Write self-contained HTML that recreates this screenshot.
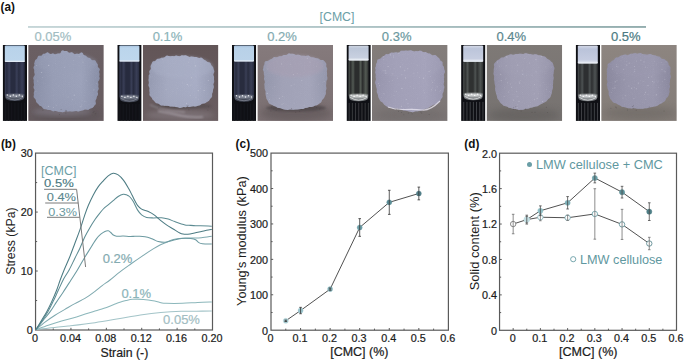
<!DOCTYPE html>
<html><head><meta charset="utf-8"><title>Figure</title>
<style>
html,body{margin:0;padding:0;background:#fff;}
body{width:685px;height:361px;overflow:hidden;}
svg{display:block;font-family:"Liberation Sans", sans-serif;}
</style></head>
<body>
<svg width="685" height="361" viewBox="0 0 685 361">
<rect width="685" height="361" fill="#fff"/>
<text x="0.6" y="10.8" font-size="12.6" font-weight="bold" fill="#111" textLength="14.4" lengthAdjust="spacingAndGlyphs">(a)</text>
<text x="337.00" y="21.20" font-size="12.3" fill="#6b9ea6" text-anchor="middle" font-weight="normal" >[CMC]</text>
<defs><linearGradient id="hl" x1="0" y1="0" x2="1" y2="0"><stop offset="0" stop-color="#c6d6d8"/><stop offset="0.5" stop-color="#b0c5c7"/><stop offset="1" stop-color="#93adae"/></linearGradient></defs>
<rect x="28" y="26.0" width="618" height="1.9" fill="url(#hl)"/>
<defs>
<filter id="soft" x="-10%" y="-10%" width="120%" height="120%"><feGaussianBlur stdDeviation="0.45"/></filter>
<filter id="blur15" x="-20%" y="-20%" width="140%" height="140%"><feGaussianBlur stdDeviation="1.6"/></filter>
<filter id="blur1" x="-20%" y="-20%" width="140%" height="140%"><feGaussianBlur stdDeviation="0.9"/></filter>
<filter id="blur2" x="-20%" y="-20%" width="140%" height="140%"><feGaussianBlur stdDeviation="2.5"/></filter>
<filter id="blur3" x="-30%" y="-30%" width="160%" height="160%"><feGaussianBlur stdDeviation="3.5"/></filter>
<filter id="grain" x="0" y="0" width="100%" height="100%"><feTurbulence type="fractalNoise" baseFrequency="0.9" numOctaves="1" seed="11" result="n"/><feColorMatrix in="n" type="matrix" values="0 0 0 0 1  0 0 0 0 1  0 0 0 0 1  0.9 0 0 0 -0.45" result="w"/><feComposite in="w" in2="SourceGraphic" operator="in"/></filter>
<linearGradient id="bg0" x1="0" y1="0" x2="0" y2="1"><stop offset="0" stop-color="#6a5f63"/><stop offset="1" stop-color="#675c60"/></linearGradient>
<linearGradient id="gelv0" x1="0" y1="0" x2="0" y2="1"><stop offset="0" stop-color="#9ca2ba" stop-opacity="0.3"/><stop offset="0.5" stop-color="#979db5" stop-opacity="0"/><stop offset="1" stop-color="#9196ae" stop-opacity="0.5"/></linearGradient>
<linearGradient id="gel0" x1="0" y1="0" x2="1" y2="0"><stop offset="0" stop-color="#888ea6"/><stop offset="0.3" stop-color="#979db5"/><stop offset="0.72" stop-color="#9ca2ba"/><stop offset="1" stop-color="#888ea6"/></linearGradient>
<linearGradient id="bg1" x1="0" y1="0" x2="0" y2="1"><stop offset="0" stop-color="#625557"/><stop offset="1" stop-color="#6a5e61"/></linearGradient>
<linearGradient id="gelv1" x1="0" y1="0" x2="0" y2="1"><stop offset="0" stop-color="#a8adc5" stop-opacity="0.3"/><stop offset="0.5" stop-color="#a4a9c0" stop-opacity="0"/><stop offset="1" stop-color="#9ea2b8" stop-opacity="0.5"/></linearGradient>
<linearGradient id="gel1" x1="0" y1="0" x2="1" y2="0"><stop offset="0" stop-color="#959ab1"/><stop offset="0.3" stop-color="#a4a9c0"/><stop offset="0.72" stop-color="#a8adc5"/><stop offset="1" stop-color="#959ab1"/></linearGradient>
<linearGradient id="bg2" x1="0" y1="0" x2="0" y2="1"><stop offset="0" stop-color="#857a7c"/><stop offset="1" stop-color="#7a6f71"/></linearGradient>
<linearGradient id="gelv2" x1="0" y1="0" x2="0" y2="1"><stop offset="0" stop-color="#a4a5ba" stop-opacity="0.3"/><stop offset="0.5" stop-color="#a0a1b6" stop-opacity="0"/><stop offset="1" stop-color="#a3a5ba" stop-opacity="0.5"/></linearGradient>
<linearGradient id="gel2" x1="0" y1="0" x2="1" y2="0"><stop offset="0" stop-color="#9396ab"/><stop offset="0.3" stop-color="#a0a1b6"/><stop offset="0.72" stop-color="#a4a5ba"/><stop offset="1" stop-color="#9396ab"/></linearGradient>
<linearGradient id="bg3" x1="0" y1="0" x2="0" y2="1"><stop offset="0" stop-color="#837d7a"/><stop offset="1" stop-color="#7c7676"/></linearGradient>
<linearGradient id="gelv3" x1="0" y1="0" x2="0" y2="1"><stop offset="0" stop-color="#a5a3bb" stop-opacity="0.3"/><stop offset="0.5" stop-color="#a19fb7" stop-opacity="0"/><stop offset="1" stop-color="#a2a0b8" stop-opacity="0.5"/></linearGradient>
<linearGradient id="gel3" x1="0" y1="0" x2="1" y2="0"><stop offset="0" stop-color="#9694ac"/><stop offset="0.3" stop-color="#a19fb7"/><stop offset="0.72" stop-color="#a5a3bb"/><stop offset="1" stop-color="#9694ac"/></linearGradient>
<linearGradient id="bg4" x1="0" y1="0" x2="0" y2="1"><stop offset="0" stop-color="#7e7976"/><stop offset="1" stop-color="#767270"/></linearGradient>
<linearGradient id="gelv4" x1="0" y1="0" x2="0" y2="1"><stop offset="0" stop-color="#a2a0b5" stop-opacity="0.3"/><stop offset="0.5" stop-color="#9e9cb1" stop-opacity="0"/><stop offset="1" stop-color="#9c9aaf" stop-opacity="0.5"/></linearGradient>
<linearGradient id="gel4" x1="0" y1="0" x2="1" y2="0"><stop offset="0" stop-color="#908ea4"/><stop offset="0.3" stop-color="#9e9cb1"/><stop offset="0.72" stop-color="#a2a0b5"/><stop offset="1" stop-color="#908ea4"/></linearGradient>
<linearGradient id="bg5" x1="0" y1="0" x2="0" y2="1"><stop offset="0" stop-color="#8d8580"/><stop offset="1" stop-color="#837c77"/></linearGradient>
<linearGradient id="gelv5" x1="0" y1="0" x2="0" y2="1"><stop offset="0" stop-color="#9b99af" stop-opacity="0.3"/><stop offset="0.5" stop-color="#9795ab" stop-opacity="0"/><stop offset="1" stop-color="#9593a9" stop-opacity="0.5"/></linearGradient>
<linearGradient id="gel5" x1="0" y1="0" x2="1" y2="0"><stop offset="0" stop-color="#8a889e"/><stop offset="0.3" stop-color="#9795ab"/><stop offset="0.72" stop-color="#9b99af"/><stop offset="1" stop-color="#8a889e"/></linearGradient>
<linearGradient id="vt0" x1="0" y1="0" x2="0" y2="1"><stop offset="0" stop-color="#a4bedb"/><stop offset="0.15" stop-color="#b9d3ea"/><stop offset="0.88" stop-color="#bcd5eb"/><stop offset="1" stop-color="#d2e2f1"/></linearGradient>
<linearGradient id="vg0" x1="0" y1="0" x2="1" y2="0"><stop offset="0" stop-color="#3a3f58"/><stop offset="0.1" stop-color="#282c40"/><stop offset="0.22" stop-color="#3a3f58"/><stop offset="0.32" stop-color="#282c40"/><stop offset="0.5" stop-color="#282c40"/><stop offset="0.6" stop-color="#3a3f58"/><stop offset="0.7" stop-color="#282c40"/><stop offset="0.86" stop-color="#3a3f58"/><stop offset="1" stop-color="#282c40"/></linearGradient>
<linearGradient id="vt1" x1="0" y1="0" x2="0" y2="1"><stop offset="0" stop-color="#a6c0dc"/><stop offset="0.15" stop-color="#bbd5ec"/><stop offset="0.88" stop-color="#bed7ed"/><stop offset="1" stop-color="#d4e4f2"/></linearGradient>
<linearGradient id="vg1" x1="0" y1="0" x2="1" y2="0"><stop offset="0" stop-color="#393e56"/><stop offset="0.1" stop-color="#272b3e"/><stop offset="0.22" stop-color="#393e56"/><stop offset="0.32" stop-color="#272b3e"/><stop offset="0.5" stop-color="#272b3e"/><stop offset="0.6" stop-color="#393e56"/><stop offset="0.7" stop-color="#272b3e"/><stop offset="0.86" stop-color="#393e56"/><stop offset="1" stop-color="#272b3e"/></linearGradient>
<linearGradient id="vt2" x1="0" y1="0" x2="0" y2="1"><stop offset="0" stop-color="#a3bcd8"/><stop offset="0.15" stop-color="#b8d1e8"/><stop offset="0.88" stop-color="#bbd3e9"/><stop offset="1" stop-color="#d1e0ef"/></linearGradient>
<linearGradient id="vg2" x1="0" y1="0" x2="1" y2="0"><stop offset="0" stop-color="#3a3f56"/><stop offset="0.1" stop-color="#282c3e"/><stop offset="0.22" stop-color="#3a3f56"/><stop offset="0.32" stop-color="#282c3e"/><stop offset="0.5" stop-color="#282c3e"/><stop offset="0.6" stop-color="#3a3f56"/><stop offset="0.7" stop-color="#282c3e"/><stop offset="0.86" stop-color="#3a3f56"/><stop offset="1" stop-color="#282c3e"/></linearGradient>
<linearGradient id="vt3" x1="0" y1="0" x2="0" y2="1"><stop offset="0" stop-color="#d0d6e2"/><stop offset="0.2" stop-color="#bcc6d8"/><stop offset="0.8" stop-color="#c8d0e0"/><stop offset="1" stop-color="#eef1f5"/></linearGradient>
<linearGradient id="vg3" x1="0" y1="0" x2="1" y2="0"><stop offset="0" stop-color="#535a54"/><stop offset="0.1" stop-color="#2b2d2d"/><stop offset="0.22" stop-color="#535a54"/><stop offset="0.32" stop-color="#2b2d2d"/><stop offset="0.5" stop-color="#2b2d2d"/><stop offset="0.6" stop-color="#535a54"/><stop offset="0.7" stop-color="#2b2d2d"/><stop offset="0.86" stop-color="#535a54"/><stop offset="1" stop-color="#2b2d2d"/></linearGradient>
<linearGradient id="vt4" x1="0" y1="0" x2="0" y2="1"><stop offset="0" stop-color="#d8dce8"/><stop offset="0.2" stop-color="#bcc5da"/><stop offset="0.8" stop-color="#c6cde0"/><stop offset="1" stop-color="#eef0f4"/></linearGradient>
<linearGradient id="vg4" x1="0" y1="0" x2="1" y2="0"><stop offset="0" stop-color="#4f5453"/><stop offset="0.1" stop-color="#2f3131"/><stop offset="0.22" stop-color="#4f5453"/><stop offset="0.32" stop-color="#2f3131"/><stop offset="0.5" stop-color="#2f3131"/><stop offset="0.6" stop-color="#4f5453"/><stop offset="0.7" stop-color="#2f3131"/><stop offset="0.86" stop-color="#4f5453"/><stop offset="1" stop-color="#2f3131"/></linearGradient>
<linearGradient id="vt5" x1="0" y1="0" x2="0" y2="1"><stop offset="0" stop-color="#d6dae8"/><stop offset="0.2" stop-color="#bac3da"/><stop offset="0.8" stop-color="#c5cce0"/><stop offset="1" stop-color="#eceff4"/></linearGradient>
<linearGradient id="vg5" x1="0" y1="0" x2="1" y2="0"><stop offset="0" stop-color="#4d5253"/><stop offset="0.1" stop-color="#2d2f31"/><stop offset="0.22" stop-color="#4d5253"/><stop offset="0.32" stop-color="#2d2f31"/><stop offset="0.5" stop-color="#2d2f31"/><stop offset="0.6" stop-color="#4d5253"/><stop offset="0.7" stop-color="#2d2f31"/><stop offset="0.86" stop-color="#4d5253"/><stop offset="1" stop-color="#2d2f31"/></linearGradient>
<clipPath id="pc0"><rect x="28.20" y="45.0" width="75.6" height="75.9"/></clipPath>
<clipPath id="vc0"><rect x="2.70" y="45.0" width="24.3" height="75.9"/></clipPath>
<clipPath id="pc1"><rect x="142.80" y="45.0" width="75.6" height="75.9"/></clipPath>
<clipPath id="vc1"><rect x="117.30" y="45.0" width="24.3" height="75.9"/></clipPath>
<clipPath id="pc2"><rect x="257.40" y="45.0" width="75.6" height="75.9"/></clipPath>
<clipPath id="vc2"><rect x="231.90" y="45.0" width="24.3" height="75.9"/></clipPath>
<clipPath id="pc3"><rect x="372.00" y="45.0" width="75.6" height="75.9"/></clipPath>
<clipPath id="vc3"><rect x="346.50" y="45.0" width="24.3" height="75.9"/></clipPath>
<clipPath id="pc4"><rect x="486.60" y="45.0" width="75.6" height="75.9"/></clipPath>
<clipPath id="vc4"><rect x="461.10" y="45.0" width="24.3" height="75.9"/></clipPath>
<clipPath id="pc5"><rect x="601.20" y="45.0" width="75.6" height="75.9"/></clipPath>
<clipPath id="vc5"><rect x="575.70" y="45.0" width="24.3" height="75.9"/></clipPath>
</defs>
<text x="52.85" y="41.00" font-size="13.0" fill="#a2bdc2" text-anchor="middle" font-weight="normal" stroke="#a2bdc2" stroke-width="0.2">0.05%</text>
<g clip-path="url(#vc0)">
<rect x="2.70" y="45.0" width="24.3" height="75.9" fill="#0f1015"/>
<rect x="4.80" y="61.00" width="20.00" height="36.20" rx="2.5" fill="url(#vg0)"/>
<rect x="4.80" y="45.4" width="20.00" height="16.60" rx="1.2" fill="url(#vt0)"/>
<rect x="4.80" y="60.80" width="20.00" height="1.2" fill="#e9f0f8" opacity="0.7"/>
<path d="M5.30,94.20 L24.30,94.20 L24.30,97.20 Q24.30,101.00 14.80,101.00 Q5.30,101.00 5.30,97.20 Z" fill="#4f5564" opacity="0.85"/>
<ellipse cx="14.80" cy="95.80" rx="8.50" ry="1.6" fill="#dfe3ec" opacity="0.55" filter="url(#blur1)"/>
<path d="M6.30,97.20 Q14.80,102.70 23.30,97.20" fill="none" stroke="#dfe3ec" stroke-width="0.9" opacity="0.35"/>
<circle cx="7.30" cy="95.00" r="0.7" fill="#ffffff" opacity="0.9"/>
<circle cx="10.30" cy="96.20" r="0.7" fill="#ffffff" opacity="0.9"/>
<circle cx="13.30" cy="95.00" r="0.7" fill="#ffffff" opacity="0.9"/>
<circle cx="16.30" cy="96.20" r="0.7" fill="#ffffff" opacity="0.9"/>
<circle cx="19.30" cy="95.00" r="0.7" fill="#ffffff" opacity="0.9"/>
<circle cx="22.30" cy="96.20" r="0.7" fill="#ffffff" opacity="0.9"/>
<rect x="4.90" y="102.70" width="0.9" height="18.20" fill="#17181e"/>
<rect x="8.10" y="102.70" width="0.9" height="18.20" fill="#17181e"/>
<rect x="11.30" y="102.70" width="0.9" height="18.20" fill="#17181e"/>
<rect x="14.50" y="102.70" width="0.9" height="18.20" fill="#17181e"/>
<rect x="17.70" y="102.70" width="0.9" height="18.20" fill="#17181e"/>
<rect x="20.90" y="102.70" width="0.9" height="18.20" fill="#17181e"/>
<rect x="24.10" y="102.70" width="0.9" height="18.20" fill="#17181e"/>
</g>
<g clip-path="url(#pc0)">
<rect x="28.20" y="45.0" width="75.6" height="75.9" fill="url(#bg0)"/>
<ellipse cx="66" cy="115" rx="36" ry="7" fill="#5a5257" opacity="0.7" filter="url(#blur3)"/>
<ellipse cx="62" cy="112" rx="30" ry="4" fill="#8f8a98" opacity="0.5" filter="url(#blur2)"/>
<g filter="url(#soft)"><path d="M34.54,62.48 L34.76,61.50 L35.00,60.52 L35.53,59.70 L36.39,59.16 L37.12,58.62 L37.44,57.77 L37.72,56.91 L38.02,56.13 L38.69,55.78 L39.57,55.78 L40.35,55.83 L40.94,55.77 L41.47,55.68 L41.87,55.30 L42.28,54.77 L42.77,54.23 L43.39,53.85 L44.13,53.68 L44.92,53.68 L45.69,53.21 L46.50,52.72 L47.34,52.30 L48.18,52.48 L49.00,53.18 L49.77,53.74 L50.52,54.10 L51.35,53.96 L52.23,53.61 L53.06,53.51 L53.82,53.85 L54.61,54.31 L55.44,54.32 L56.25,54.03 L57.06,53.71 L57.93,53.49 L58.92,53.54 L59.83,53.44 L60.54,52.99 L61.00,51.99 L61.49,51.06 L62.06,50.62 L62.62,50.44 L63.19,50.50 L63.76,50.70 L64.30,50.92 L64.83,51.01 L65.39,51.06 L66.03,51.07 L66.76,51.04 L67.46,51.45 L68.13,52.07 L68.84,52.63 L69.69,52.80 L70.66,52.54 L71.59,52.34 L72.37,52.58 L73.09,53.12 L73.80,53.82 L74.60,54.18 L75.50,54.02 L76.39,53.76 L77.20,53.66 L77.93,53.77 L78.60,53.95 L79.21,53.78 L79.71,53.44 L80.17,53.13 L80.58,52.65 L81.10,52.42 L81.73,52.50 L82.36,52.81 L82.89,53.30 L83.19,54.06 L83.45,54.68 L83.85,55.10 L84.43,55.36 L85.16,55.53 L85.84,55.80 L86.38,56.25 L86.84,56.85 L87.38,57.37 L88.08,57.71 L88.93,57.79 L89.78,57.91 L90.42,58.39 L90.94,59.06 L91.45,59.69 L91.99,60.18 L92.79,60.25 L93.68,60.18 L94.53,60.17 L95.19,60.45 L95.65,60.97 L95.98,61.63 L96.20,62.34 L96.58,62.82 L96.96,63.25 L97.26,63.72 L97.60,64.12 L97.81,64.60 L97.87,65.15 L97.84,65.72 L97.86,66.25 L97.84,66.82 L98.09,67.29 L98.63,67.68 L99.05,68.12 L99.53,68.63 L99.80,69.27 L99.70,70.04 L99.32,70.94 L99.04,71.99 L99.44,73.30 L99.56,74.84 L99.23,76.52 L99.75,78.35 L99.14,80.14 L98.07,81.83 L98.37,83.51 L98.51,84.99 L98.26,86.28 L98.49,87.53 L98.78,88.72 L98.40,89.77 L97.90,90.73 L97.56,91.66 L97.74,92.62 L98.01,93.56 L98.00,94.41 L97.76,95.13 L97.37,95.76 L97.01,96.34 L96.78,96.93 L96.65,97.52 L96.54,98.14 L96.36,98.77 L96.06,99.40 L95.70,100.04 L95.47,100.68 L95.43,101.35 L95.55,102.04 L95.79,102.79 L95.84,103.54 L95.66,104.23 L95.19,104.77 L94.74,105.30 L94.17,105.76 L93.79,106.36 L93.38,106.96 L92.90,107.59 L92.16,108.00 L91.30,108.31 L90.35,108.51 L89.48,109.10 L88.52,109.70 L87.33,109.83 L85.99,109.49 L84.65,109.59 L83.30,110.23 L81.79,110.54 L80.11,110.90 L78.25,111.59 L76.15,110.99 L74.04,111.25 L71.90,111.45 L69.80,111.32 L67.82,111.41 L65.99,111.09 L64.33,111.72 L62.76,112.21 L61.26,111.90 L59.82,111.78 L58.41,111.76 L57.06,111.30 L55.72,110.99 L54.30,111.23 L52.86,111.18 L51.55,110.43 L50.19,109.96 L48.72,110.00 L47.35,109.72 L46.08,109.28 L44.73,109.20 L43.55,108.84 L42.72,107.94 L42.03,107.00 L41.27,106.35 L40.32,106.03 L39.44,105.60 L38.85,104.85 L38.28,104.10 L37.64,103.39 L36.89,102.74 L36.22,102.00 L35.97,101.01 L35.84,99.98 L35.29,99.12 L34.48,98.27 L33.73,97.31 L33.68,96.10 L33.95,94.81 L33.79,93.55 L33.86,92.22 L34.37,90.84 L34.40,89.43 L33.56,87.97 L33.52,86.49 L34.09,85.00 L33.82,83.45 L33.59,81.81 L33.75,80.12 L33.16,78.40 L33.60,76.70 L34.71,75.07 L34.57,73.49 L34.15,72.00 L34.30,70.62 L34.00,69.29 L33.49,68.02 L33.66,66.79 L34.35,65.66 L34.47,64.57 L34.07,63.44 Z" fill="url(#gel0)"/><path d="M34.54,62.48 L34.76,61.50 L35.00,60.52 L35.53,59.70 L36.39,59.16 L37.12,58.62 L37.44,57.77 L37.72,56.91 L38.02,56.13 L38.69,55.78 L39.57,55.78 L40.35,55.83 L40.94,55.77 L41.47,55.68 L41.87,55.30 L42.28,54.77 L42.77,54.23 L43.39,53.85 L44.13,53.68 L44.92,53.68 L45.69,53.21 L46.50,52.72 L47.34,52.30 L48.18,52.48 L49.00,53.18 L49.77,53.74 L50.52,54.10 L51.35,53.96 L52.23,53.61 L53.06,53.51 L53.82,53.85 L54.61,54.31 L55.44,54.32 L56.25,54.03 L57.06,53.71 L57.93,53.49 L58.92,53.54 L59.83,53.44 L60.54,52.99 L61.00,51.99 L61.49,51.06 L62.06,50.62 L62.62,50.44 L63.19,50.50 L63.76,50.70 L64.30,50.92 L64.83,51.01 L65.39,51.06 L66.03,51.07 L66.76,51.04 L67.46,51.45 L68.13,52.07 L68.84,52.63 L69.69,52.80 L70.66,52.54 L71.59,52.34 L72.37,52.58 L73.09,53.12 L73.80,53.82 L74.60,54.18 L75.50,54.02 L76.39,53.76 L77.20,53.66 L77.93,53.77 L78.60,53.95 L79.21,53.78 L79.71,53.44 L80.17,53.13 L80.58,52.65 L81.10,52.42 L81.73,52.50 L82.36,52.81 L82.89,53.30 L83.19,54.06 L83.45,54.68 L83.85,55.10 L84.43,55.36 L85.16,55.53 L85.84,55.80 L86.38,56.25 L86.84,56.85 L87.38,57.37 L88.08,57.71 L88.93,57.79 L89.78,57.91 L90.42,58.39 L90.94,59.06 L91.45,59.69 L91.99,60.18 L92.79,60.25 L93.68,60.18 L94.53,60.17 L95.19,60.45 L95.65,60.97 L95.98,61.63 L96.20,62.34 L96.58,62.82 L96.96,63.25 L97.26,63.72 L97.60,64.12 L97.81,64.60 L97.87,65.15 L97.84,65.72 L97.86,66.25 L97.84,66.82 L98.09,67.29 L98.63,67.68 L99.05,68.12 L99.53,68.63 L99.80,69.27 L99.70,70.04 L99.32,70.94 L99.04,71.99 L99.44,73.30 L99.56,74.84 L99.23,76.52 L99.75,78.35 L99.14,80.14 L98.07,81.83 L98.37,83.51 L98.51,84.99 L98.26,86.28 L98.49,87.53 L98.78,88.72 L98.40,89.77 L97.90,90.73 L97.56,91.66 L97.74,92.62 L98.01,93.56 L98.00,94.41 L97.76,95.13 L97.37,95.76 L97.01,96.34 L96.78,96.93 L96.65,97.52 L96.54,98.14 L96.36,98.77 L96.06,99.40 L95.70,100.04 L95.47,100.68 L95.43,101.35 L95.55,102.04 L95.79,102.79 L95.84,103.54 L95.66,104.23 L95.19,104.77 L94.74,105.30 L94.17,105.76 L93.79,106.36 L93.38,106.96 L92.90,107.59 L92.16,108.00 L91.30,108.31 L90.35,108.51 L89.48,109.10 L88.52,109.70 L87.33,109.83 L85.99,109.49 L84.65,109.59 L83.30,110.23 L81.79,110.54 L80.11,110.90 L78.25,111.59 L76.15,110.99 L74.04,111.25 L71.90,111.45 L69.80,111.32 L67.82,111.41 L65.99,111.09 L64.33,111.72 L62.76,112.21 L61.26,111.90 L59.82,111.78 L58.41,111.76 L57.06,111.30 L55.72,110.99 L54.30,111.23 L52.86,111.18 L51.55,110.43 L50.19,109.96 L48.72,110.00 L47.35,109.72 L46.08,109.28 L44.73,109.20 L43.55,108.84 L42.72,107.94 L42.03,107.00 L41.27,106.35 L40.32,106.03 L39.44,105.60 L38.85,104.85 L38.28,104.10 L37.64,103.39 L36.89,102.74 L36.22,102.00 L35.97,101.01 L35.84,99.98 L35.29,99.12 L34.48,98.27 L33.73,97.31 L33.68,96.10 L33.95,94.81 L33.79,93.55 L33.86,92.22 L34.37,90.84 L34.40,89.43 L33.56,87.97 L33.52,86.49 L34.09,85.00 L33.82,83.45 L33.59,81.81 L33.75,80.12 L33.16,78.40 L33.60,76.70 L34.71,75.07 L34.57,73.49 L34.15,72.00 L34.30,70.62 L34.00,69.29 L33.49,68.02 L33.66,66.79 L34.35,65.66 L34.47,64.57 L34.07,63.44 Z" fill="url(#gelv0)"/></g>
<ellipse cx="67" cy="63" rx="30" ry="10" fill="#9aa0b8" opacity="0.3" filter="url(#blur15)"/>
<path d="M34.54,62.48 L34.76,61.50 L35.00,60.52 L35.53,59.70 L36.39,59.16 L37.12,58.62 L37.44,57.77 L37.72,56.91 L38.02,56.13 L38.69,55.78 L39.57,55.78 L40.35,55.83 L40.94,55.77 L41.47,55.68 L41.87,55.30 L42.28,54.77 L42.77,54.23 L43.39,53.85 L44.13,53.68 L44.92,53.68 L45.69,53.21 L46.50,52.72 L47.34,52.30 L48.18,52.48 L49.00,53.18 L49.77,53.74 L50.52,54.10 L51.35,53.96 L52.23,53.61 L53.06,53.51 L53.82,53.85 L54.61,54.31 L55.44,54.32 L56.25,54.03 L57.06,53.71 L57.93,53.49 L58.92,53.54 L59.83,53.44 L60.54,52.99 L61.00,51.99 L61.49,51.06 L62.06,50.62 L62.62,50.44 L63.19,50.50 L63.76,50.70 L64.30,50.92 L64.83,51.01 L65.39,51.06 L66.03,51.07 L66.76,51.04 L67.46,51.45 L68.13,52.07 L68.84,52.63 L69.69,52.80 L70.66,52.54 L71.59,52.34 L72.37,52.58 L73.09,53.12 L73.80,53.82 L74.60,54.18 L75.50,54.02 L76.39,53.76 L77.20,53.66 L77.93,53.77 L78.60,53.95 L79.21,53.78 L79.71,53.44 L80.17,53.13 L80.58,52.65 L81.10,52.42 L81.73,52.50 L82.36,52.81 L82.89,53.30 L83.19,54.06 L83.45,54.68 L83.85,55.10 L84.43,55.36 L85.16,55.53 L85.84,55.80 L86.38,56.25 L86.84,56.85 L87.38,57.37 L88.08,57.71 L88.93,57.79 L89.78,57.91 L90.42,58.39 L90.94,59.06 L91.45,59.69 L91.99,60.18 L92.79,60.25 L93.68,60.18 L94.53,60.17 L95.19,60.45 L95.65,60.97 L95.98,61.63 L96.20,62.34 L96.58,62.82 L96.96,63.25 L97.26,63.72 L97.60,64.12 L97.81,64.60 L97.87,65.15 L97.84,65.72 L97.86,66.25 L97.84,66.82 L98.09,67.29 L98.63,67.68 L99.05,68.12 L99.53,68.63 L99.80,69.27 L99.70,70.04 L99.32,70.94 L99.04,71.99 L99.44,73.30 L99.56,74.84 L99.23,76.52 L99.75,78.35 L99.14,80.14 L98.07,81.83 L98.37,83.51 L98.51,84.99 L98.26,86.28 L98.49,87.53 L98.78,88.72 L98.40,89.77 L97.90,90.73 L97.56,91.66 L97.74,92.62 L98.01,93.56 L98.00,94.41 L97.76,95.13 L97.37,95.76 L97.01,96.34 L96.78,96.93 L96.65,97.52 L96.54,98.14 L96.36,98.77 L96.06,99.40 L95.70,100.04 L95.47,100.68 L95.43,101.35 L95.55,102.04 L95.79,102.79 L95.84,103.54 L95.66,104.23 L95.19,104.77 L94.74,105.30 L94.17,105.76 L93.79,106.36 L93.38,106.96 L92.90,107.59 L92.16,108.00 L91.30,108.31 L90.35,108.51 L89.48,109.10 L88.52,109.70 L87.33,109.83 L85.99,109.49 L84.65,109.59 L83.30,110.23 L81.79,110.54 L80.11,110.90 L78.25,111.59 L76.15,110.99 L74.04,111.25 L71.90,111.45 L69.80,111.32 L67.82,111.41 L65.99,111.09 L64.33,111.72 L62.76,112.21 L61.26,111.90 L59.82,111.78 L58.41,111.76 L57.06,111.30 L55.72,110.99 L54.30,111.23 L52.86,111.18 L51.55,110.43 L50.19,109.96 L48.72,110.00 L47.35,109.72 L46.08,109.28 L44.73,109.20 L43.55,108.84 L42.72,107.94 L42.03,107.00 L41.27,106.35 L40.32,106.03 L39.44,105.60 L38.85,104.85 L38.28,104.10 L37.64,103.39 L36.89,102.74 L36.22,102.00 L35.97,101.01 L35.84,99.98 L35.29,99.12 L34.48,98.27 L33.73,97.31 L33.68,96.10 L33.95,94.81 L33.79,93.55 L33.86,92.22 L34.37,90.84 L34.40,89.43 L33.56,87.97 L33.52,86.49 L34.09,85.00 L33.82,83.45 L33.59,81.81 L33.75,80.12 L33.16,78.40 L33.60,76.70 L34.71,75.07 L34.57,73.49 L34.15,72.00 L34.30,70.62 L34.00,69.29 L33.49,68.02 L33.66,66.79 L34.35,65.66 L34.47,64.57 L34.07,63.44 Z" fill="#fff" opacity="0.12" filter="url(#grain)"/>

<circle cx="74.2" cy="95.1" r="0.55" fill="#e4e4ee" opacity="0.44"/>
<circle cx="81.4" cy="105.2" r="0.36" fill="#e4e4ee" opacity="0.32"/>
<circle cx="93.9" cy="89.8" r="0.58" fill="#e4e4ee" opacity="0.23"/>
<circle cx="64.7" cy="67.2" r="0.49" fill="#e4e4ee" opacity="0.34"/>
<circle cx="36.6" cy="65.5" r="0.42" fill="#e4e4ee" opacity="0.43"/>
<circle cx="83.0" cy="62.3" r="0.55" fill="#e4e4ee" opacity="0.23"/>
<circle cx="73.8" cy="60.4" r="0.35" fill="#e4e4ee" opacity="0.42"/>
<circle cx="48.7" cy="65.4" r="0.6" fill="#e4e4ee" opacity="0.42"/>
<circle cx="53.6" cy="107.4" r="0.48" fill="#e4e4ee" opacity="0.37"/>
<circle cx="48.4" cy="106.3" r="0.52" fill="#e4e4ee" opacity="0.44"/>
<circle cx="90.9" cy="70.1" r="0.44" fill="#e4e4ee" opacity="0.24"/>
<circle cx="44.8" cy="57.0" r="0.43" fill="#e4e4ee" opacity="0.35"/>
<circle cx="36.0" cy="91.5" r="0.43" fill="#e4e4ee" opacity="0.28"/>
<circle cx="86.2" cy="80.4" r="0.43" fill="#e4e4ee" opacity="0.32"/>
<circle cx="79.2" cy="56.5" r="0.59" fill="#e4e4ee" opacity="0.21"/>
<circle cx="82.0" cy="100.9" r="0.35" fill="#e4e4ee" opacity="0.4"/>
<circle cx="58.4" cy="85.9" r="0.35" fill="#e4e4ee" opacity="0.21"/>
<circle cx="46.9" cy="107.1" r="0.4" fill="#e4e4ee" opacity="0.39"/>
<circle cx="93.1" cy="106.3" r="0.44" fill="#e4e4ee" opacity="0.29"/>
<circle cx="68.1" cy="97.0" r="0.38" fill="#e4e4ee" opacity="0.39"/>
<circle cx="84.9" cy="101.7" r="0.36" fill="#e4e4ee" opacity="0.44"/>
<circle cx="41.4" cy="72.5" r="0.5" fill="#e4e4ee" opacity="0.43"/>
<circle cx="56.7" cy="105.3" r="0.49" fill="#e4e4ee" opacity="0.28"/>
<circle cx="55.3" cy="63.3" r="0.37" fill="#e4e4ee" opacity="0.24"/>
<circle cx="78.3" cy="109.4" r="0.39" fill="#e4e4ee" opacity="0.21"/>
<circle cx="96.6" cy="83.3" r="0.45" fill="#e4e4ee" opacity="0.26"/>
<circle cx="72.4" cy="99.8" r="0.46" fill="#e4e4ee" opacity="0.31"/>
<circle cx="37.8" cy="81.1" r="0.56" fill="#e4e4ee" opacity="0.23"/>
<circle cx="80.9" cy="106.8" r="0.51" fill="#e4e4ee" opacity="0.4"/>
<circle cx="42.4" cy="77.8" r="0.39" fill="#e4e4ee" opacity="0.41"/>
<circle cx="54.8" cy="111.3" r="0.5" fill="#3e383b" opacity="0.35"/>
<circle cx="95.4" cy="113.7" r="0.5" fill="#3e383b" opacity="0.35"/>
<circle cx="94.0" cy="111.3" r="0.5" fill="#3e383b" opacity="0.35"/>
<circle cx="65.9" cy="113.0" r="0.5" fill="#3e383b" opacity="0.35"/>
<circle cx="65.4" cy="110.3" r="0.5" fill="#3e383b" opacity="0.35"/>
<circle cx="61.1" cy="109.5" r="0.5" fill="#3e383b" opacity="0.35"/>
<circle cx="59.5" cy="114.5" r="0.5" fill="#3e383b" opacity="0.35"/>
<circle cx="93.1" cy="112.4" r="0.5" fill="#3e383b" opacity="0.35"/>
<circle cx="66.6" cy="110.6" r="0.5" fill="#3e383b" opacity="0.35"/>
<circle cx="42.9" cy="110.2" r="0.5" fill="#3e383b" opacity="0.35"/>
</g>
<text x="167.45" y="41.00" font-size="13.0" fill="#8bb4b9" text-anchor="middle" font-weight="normal" stroke="#8bb4b9" stroke-width="0.2">0.1%</text>
<g clip-path="url(#vc1)">
<rect x="117.30" y="45.0" width="24.3" height="75.9" fill="#0f1015"/>
<rect x="119.40" y="60.60" width="20.00" height="37.80" rx="2.5" fill="url(#vg1)"/>
<rect x="119.40" y="45.4" width="20.00" height="16.20" rx="1.2" fill="url(#vt1)"/>
<rect x="119.40" y="60.40" width="20.00" height="1.2" fill="#e9f0f8" opacity="0.7"/>
<path d="M119.90,95.40 L138.90,95.40 L138.90,98.40 Q138.90,102.20 129.40,102.20 Q119.90,102.20 119.90,98.40 Z" fill="#4f5564" opacity="0.85"/>
<ellipse cx="129.40" cy="97.00" rx="8.50" ry="1.6" fill="#d8dde8" opacity="0.55" filter="url(#blur1)"/>
<path d="M120.90,98.40 Q129.40,103.90 137.90,98.40" fill="none" stroke="#d8dde8" stroke-width="0.9" opacity="0.35"/>
<circle cx="121.90" cy="96.20" r="0.7" fill="#ffffff" opacity="0.9"/>
<circle cx="124.90" cy="97.40" r="0.7" fill="#ffffff" opacity="0.9"/>
<circle cx="127.90" cy="96.20" r="0.7" fill="#ffffff" opacity="0.9"/>
<circle cx="130.90" cy="97.40" r="0.7" fill="#ffffff" opacity="0.9"/>
<circle cx="133.90" cy="96.20" r="0.7" fill="#ffffff" opacity="0.9"/>
<circle cx="136.90" cy="97.40" r="0.7" fill="#ffffff" opacity="0.9"/>
<rect x="119.50" y="103.90" width="0.9" height="17.00" fill="#17181e"/>
<rect x="122.70" y="103.90" width="0.9" height="17.00" fill="#17181e"/>
<rect x="125.90" y="103.90" width="0.9" height="17.00" fill="#17181e"/>
<rect x="129.10" y="103.90" width="0.9" height="17.00" fill="#17181e"/>
<rect x="132.30" y="103.90" width="0.9" height="17.00" fill="#17181e"/>
<rect x="135.50" y="103.90" width="0.9" height="17.00" fill="#17181e"/>
<rect x="138.70" y="103.90" width="0.9" height="17.00" fill="#17181e"/>
</g>
<g clip-path="url(#pc1)">
<rect x="142.80" y="45.0" width="75.6" height="75.9" fill="url(#bg1)"/>
<ellipse cx="180" cy="115" rx="34" ry="5" fill="#857c81" opacity="0.6" filter="url(#blur2)"/>
<ellipse cx="181" cy="106" rx="31" ry="3" fill="#4f484c" opacity="0.55" filter="url(#blur1)"/>
<g filter="url(#soft)"><path d="M149.29,72.58 L149.29,71.35 L149.86,70.26 L150.67,69.30 L150.91,68.31 L150.69,67.24 L150.56,66.17 L150.90,65.27 L151.31,64.39 L151.75,63.56 L152.03,62.63 L152.55,61.85 L153.36,61.33 L154.43,61.16 L155.35,60.86 L156.04,60.18 L156.71,59.23 L157.73,58.73 L158.99,58.70 L160.18,58.42 L161.35,57.82 L162.70,57.65 L164.11,57.49 L165.42,56.44 L166.86,55.54 L168.60,55.99 L170.38,56.16 L172.23,56.08 L174.15,56.37 L176.05,55.49 L178.00,55.89 L179.92,56.21 L181.81,55.35 L183.68,55.50 L185.63,55.20 L187.51,55.99 L189.36,56.92 L191.31,56.45 L193.11,56.77 L194.85,57.01 L196.53,57.06 L197.95,57.85 L199.47,57.98 L201.11,57.60 L202.42,58.18 L203.44,59.31 L204.55,59.98 L205.67,60.49 L206.52,61.37 L207.38,62.09 L208.57,62.31 L209.75,62.61 L210.58,63.30 L210.95,64.38 L211.36,65.32 L212.01,66.05 L212.80,66.69 L213.28,67.50 L213.49,68.40 L213.70,69.27 L214.00,70.13 L214.35,71.02 L214.29,72.00 L213.89,73.04 L213.39,74.13 L213.47,75.26 L214.01,76.50 L214.10,77.81 L213.94,79.15 L214.18,80.54 L214.24,81.90 L213.73,83.17 L213.35,84.38 L213.68,85.59 L213.92,86.76 L213.76,87.90 L213.28,89.00 L213.02,90.07 L212.97,91.13 L212.78,92.15 L212.36,93.08 L212.07,94.04 L212.10,95.15 L212.13,96.30 L211.74,97.29 L210.93,98.01 L210.28,98.75 L209.74,99.51 L209.29,100.28 L208.73,100.89 L208.11,101.36 L207.42,101.68 L206.77,102.01 L206.17,102.45 L205.57,102.98 L204.87,103.37 L203.99,103.47 L203.09,103.55 L202.25,103.70 L201.50,104.06 L200.79,104.65 L199.97,105.22 L198.97,105.50 L197.82,105.75 L196.56,106.25 L195.07,106.53 L193.30,106.20 L191.50,106.53 L189.62,107.05 L187.61,106.84 L185.65,107.20 L183.68,107.08 L181.80,107.49 L179.89,107.90 L177.96,107.27 L175.98,107.09 L174.04,106.63 L172.11,106.52 L170.24,106.61 L168.59,105.90 L167.03,105.77 L165.58,105.99 L164.30,105.83 L163.14,105.60 L162.04,105.53 L161.01,105.44 L160.13,104.99 L159.39,104.31 L158.66,103.77 L157.94,103.45 L157.20,103.34 L156.52,103.19 L155.95,102.89 L155.46,102.50 L155.04,101.99 L154.64,101.44 L154.13,100.88 L153.48,100.37 L152.78,99.85 L152.30,99.10 L151.97,98.22 L151.53,97.39 L150.86,96.64 L150.00,95.89 L149.49,94.90 L149.54,93.68 L149.67,92.41 L149.40,91.18 L149.30,89.87 L149.54,88.49 L149.16,87.15 L148.44,85.80 L148.47,84.41 L148.87,82.97 L148.71,81.47 L148.40,79.91 L148.70,78.35 L148.68,76.80 L148.70,75.29 L149.69,73.96 Z" fill="url(#gel1)"/><path d="M149.29,72.58 L149.29,71.35 L149.86,70.26 L150.67,69.30 L150.91,68.31 L150.69,67.24 L150.56,66.17 L150.90,65.27 L151.31,64.39 L151.75,63.56 L152.03,62.63 L152.55,61.85 L153.36,61.33 L154.43,61.16 L155.35,60.86 L156.04,60.18 L156.71,59.23 L157.73,58.73 L158.99,58.70 L160.18,58.42 L161.35,57.82 L162.70,57.65 L164.11,57.49 L165.42,56.44 L166.86,55.54 L168.60,55.99 L170.38,56.16 L172.23,56.08 L174.15,56.37 L176.05,55.49 L178.00,55.89 L179.92,56.21 L181.81,55.35 L183.68,55.50 L185.63,55.20 L187.51,55.99 L189.36,56.92 L191.31,56.45 L193.11,56.77 L194.85,57.01 L196.53,57.06 L197.95,57.85 L199.47,57.98 L201.11,57.60 L202.42,58.18 L203.44,59.31 L204.55,59.98 L205.67,60.49 L206.52,61.37 L207.38,62.09 L208.57,62.31 L209.75,62.61 L210.58,63.30 L210.95,64.38 L211.36,65.32 L212.01,66.05 L212.80,66.69 L213.28,67.50 L213.49,68.40 L213.70,69.27 L214.00,70.13 L214.35,71.02 L214.29,72.00 L213.89,73.04 L213.39,74.13 L213.47,75.26 L214.01,76.50 L214.10,77.81 L213.94,79.15 L214.18,80.54 L214.24,81.90 L213.73,83.17 L213.35,84.38 L213.68,85.59 L213.92,86.76 L213.76,87.90 L213.28,89.00 L213.02,90.07 L212.97,91.13 L212.78,92.15 L212.36,93.08 L212.07,94.04 L212.10,95.15 L212.13,96.30 L211.74,97.29 L210.93,98.01 L210.28,98.75 L209.74,99.51 L209.29,100.28 L208.73,100.89 L208.11,101.36 L207.42,101.68 L206.77,102.01 L206.17,102.45 L205.57,102.98 L204.87,103.37 L203.99,103.47 L203.09,103.55 L202.25,103.70 L201.50,104.06 L200.79,104.65 L199.97,105.22 L198.97,105.50 L197.82,105.75 L196.56,106.25 L195.07,106.53 L193.30,106.20 L191.50,106.53 L189.62,107.05 L187.61,106.84 L185.65,107.20 L183.68,107.08 L181.80,107.49 L179.89,107.90 L177.96,107.27 L175.98,107.09 L174.04,106.63 L172.11,106.52 L170.24,106.61 L168.59,105.90 L167.03,105.77 L165.58,105.99 L164.30,105.83 L163.14,105.60 L162.04,105.53 L161.01,105.44 L160.13,104.99 L159.39,104.31 L158.66,103.77 L157.94,103.45 L157.20,103.34 L156.52,103.19 L155.95,102.89 L155.46,102.50 L155.04,101.99 L154.64,101.44 L154.13,100.88 L153.48,100.37 L152.78,99.85 L152.30,99.10 L151.97,98.22 L151.53,97.39 L150.86,96.64 L150.00,95.89 L149.49,94.90 L149.54,93.68 L149.67,92.41 L149.40,91.18 L149.30,89.87 L149.54,88.49 L149.16,87.15 L148.44,85.80 L148.47,84.41 L148.87,82.97 L148.71,81.47 L148.40,79.91 L148.70,78.35 L148.68,76.80 L148.70,75.29 L149.69,73.96 Z" fill="url(#gelv1)"/></g>
<ellipse cx="182" cy="67" rx="31" ry="11" fill="#aab0c7" opacity="0.4" filter="url(#blur15)"/>
<path d="M149.29,72.58 L149.29,71.35 L149.86,70.26 L150.67,69.30 L150.91,68.31 L150.69,67.24 L150.56,66.17 L150.90,65.27 L151.31,64.39 L151.75,63.56 L152.03,62.63 L152.55,61.85 L153.36,61.33 L154.43,61.16 L155.35,60.86 L156.04,60.18 L156.71,59.23 L157.73,58.73 L158.99,58.70 L160.18,58.42 L161.35,57.82 L162.70,57.65 L164.11,57.49 L165.42,56.44 L166.86,55.54 L168.60,55.99 L170.38,56.16 L172.23,56.08 L174.15,56.37 L176.05,55.49 L178.00,55.89 L179.92,56.21 L181.81,55.35 L183.68,55.50 L185.63,55.20 L187.51,55.99 L189.36,56.92 L191.31,56.45 L193.11,56.77 L194.85,57.01 L196.53,57.06 L197.95,57.85 L199.47,57.98 L201.11,57.60 L202.42,58.18 L203.44,59.31 L204.55,59.98 L205.67,60.49 L206.52,61.37 L207.38,62.09 L208.57,62.31 L209.75,62.61 L210.58,63.30 L210.95,64.38 L211.36,65.32 L212.01,66.05 L212.80,66.69 L213.28,67.50 L213.49,68.40 L213.70,69.27 L214.00,70.13 L214.35,71.02 L214.29,72.00 L213.89,73.04 L213.39,74.13 L213.47,75.26 L214.01,76.50 L214.10,77.81 L213.94,79.15 L214.18,80.54 L214.24,81.90 L213.73,83.17 L213.35,84.38 L213.68,85.59 L213.92,86.76 L213.76,87.90 L213.28,89.00 L213.02,90.07 L212.97,91.13 L212.78,92.15 L212.36,93.08 L212.07,94.04 L212.10,95.15 L212.13,96.30 L211.74,97.29 L210.93,98.01 L210.28,98.75 L209.74,99.51 L209.29,100.28 L208.73,100.89 L208.11,101.36 L207.42,101.68 L206.77,102.01 L206.17,102.45 L205.57,102.98 L204.87,103.37 L203.99,103.47 L203.09,103.55 L202.25,103.70 L201.50,104.06 L200.79,104.65 L199.97,105.22 L198.97,105.50 L197.82,105.75 L196.56,106.25 L195.07,106.53 L193.30,106.20 L191.50,106.53 L189.62,107.05 L187.61,106.84 L185.65,107.20 L183.68,107.08 L181.80,107.49 L179.89,107.90 L177.96,107.27 L175.98,107.09 L174.04,106.63 L172.11,106.52 L170.24,106.61 L168.59,105.90 L167.03,105.77 L165.58,105.99 L164.30,105.83 L163.14,105.60 L162.04,105.53 L161.01,105.44 L160.13,104.99 L159.39,104.31 L158.66,103.77 L157.94,103.45 L157.20,103.34 L156.52,103.19 L155.95,102.89 L155.46,102.50 L155.04,101.99 L154.64,101.44 L154.13,100.88 L153.48,100.37 L152.78,99.85 L152.30,99.10 L151.97,98.22 L151.53,97.39 L150.86,96.64 L150.00,95.89 L149.49,94.90 L149.54,93.68 L149.67,92.41 L149.40,91.18 L149.30,89.87 L149.54,88.49 L149.16,87.15 L148.44,85.80 L148.47,84.41 L148.87,82.97 L148.71,81.47 L148.40,79.91 L148.70,78.35 L148.68,76.80 L148.70,75.29 L149.69,73.96 Z" fill="#fff" opacity="0.12" filter="url(#grain)"/>
<path d="M158,111 Q170,113 180,115.5 T203,117" fill="none" stroke="#d2cfd8" stroke-width="1.1" opacity="0.75" filter="url(#blur1)"/><path d="M150,105 Q165,111 185,112" fill="none" stroke="#b9b3bb" stroke-width="1.4" opacity="0.5" filter="url(#blur1)"/>
<circle cx="198.7" cy="99.1" r="0.44" fill="#e4e4ee" opacity="0.4"/>
<circle cx="198.3" cy="90.8" r="0.52" fill="#e4e4ee" opacity="0.39"/>
<circle cx="173.0" cy="91.3" r="0.42" fill="#e4e4ee" opacity="0.32"/>
<circle cx="198.0" cy="90.7" r="0.42" fill="#e4e4ee" opacity="0.44"/>
<circle cx="190.6" cy="85.4" r="0.35" fill="#e4e4ee" opacity="0.34"/>
<circle cx="166.1" cy="89.7" r="0.47" fill="#e4e4ee" opacity="0.4"/>
<circle cx="190.5" cy="95.7" r="0.44" fill="#e4e4ee" opacity="0.36"/>
<circle cx="196.0" cy="97.2" r="0.44" fill="#e4e4ee" opacity="0.41"/>
<circle cx="204.1" cy="90.5" r="0.59" fill="#e4e4ee" opacity="0.44"/>
<circle cx="182.5" cy="82.9" r="0.39" fill="#e4e4ee" opacity="0.41"/>
<circle cx="208.3" cy="80.5" r="0.52" fill="#e4e4ee" opacity="0.38"/>
<circle cx="195.5" cy="65.9" r="0.55" fill="#e4e4ee" opacity="0.35"/>
<circle cx="191.6" cy="77.8" r="0.51" fill="#e4e4ee" opacity="0.39"/>
<circle cx="189.8" cy="92.1" r="0.36" fill="#e4e4ee" opacity="0.24"/>
<circle cx="177.8" cy="88.7" r="0.4" fill="#e4e4ee" opacity="0.37"/>
<circle cx="189.4" cy="59.7" r="0.47" fill="#e4e4ee" opacity="0.26"/>
<circle cx="154.0" cy="64.1" r="0.43" fill="#e4e4ee" opacity="0.25"/>
<circle cx="162.6" cy="59.4" r="0.47" fill="#e4e4ee" opacity="0.3"/>
<circle cx="188.3" cy="85.9" r="0.41" fill="#e4e4ee" opacity="0.43"/>
<circle cx="150.7" cy="77.0" r="0.42" fill="#e4e4ee" opacity="0.3"/>
<circle cx="157.8" cy="97.4" r="0.44" fill="#e4e4ee" opacity="0.21"/>
<circle cx="188.4" cy="62.2" r="0.49" fill="#e4e4ee" opacity="0.28"/>
<circle cx="186.4" cy="103.4" r="0.55" fill="#e4e4ee" opacity="0.3"/>
<circle cx="200.6" cy="88.3" r="0.44" fill="#e4e4ee" opacity="0.24"/>
<circle cx="187.3" cy="84.6" r="0.59" fill="#e4e4ee" opacity="0.44"/>
<circle cx="187.6" cy="106.5" r="0.5" fill="#3e383b" opacity="0.35"/>
<circle cx="204.0" cy="104.4" r="0.5" fill="#3e383b" opacity="0.35"/>
<circle cx="158.9" cy="107.8" r="0.5" fill="#3e383b" opacity="0.35"/>
<circle cx="188.0" cy="105.2" r="0.5" fill="#3e383b" opacity="0.35"/>
<circle cx="188.8" cy="109.7" r="0.5" fill="#3e383b" opacity="0.35"/>
<circle cx="174.3" cy="107.0" r="0.5" fill="#3e383b" opacity="0.35"/>
<circle cx="165.7" cy="106.1" r="0.5" fill="#3e383b" opacity="0.35"/>
<circle cx="208.5" cy="106.7" r="0.5" fill="#3e383b" opacity="0.35"/>
<circle cx="207.9" cy="109.9" r="0.5" fill="#3e383b" opacity="0.35"/>
<circle cx="186.9" cy="106.0" r="0.5" fill="#3e383b" opacity="0.35"/>
</g>
<text x="282.05" y="41.00" font-size="13.0" fill="#84abb1" text-anchor="middle" font-weight="normal" stroke="#84abb1" stroke-width="0.2">0.2%</text>
<g clip-path="url(#vc2)">
<rect x="231.90" y="45.0" width="24.3" height="75.9" fill="#0f1015"/>
<rect x="234.00" y="60.50" width="20.00" height="37.50" rx="2.5" fill="url(#vg2)"/>
<rect x="234.00" y="45.4" width="20.00" height="16.10" rx="1.2" fill="url(#vt2)"/>
<rect x="234.00" y="60.30" width="20.00" height="1.2" fill="#e9f0f8" opacity="0.7"/>
<path d="M234.50,95.00 L253.50,95.00 L253.50,98.00 Q253.50,101.80 244.00,101.80 Q234.50,101.80 234.50,98.00 Z" fill="#4f5564" opacity="0.85"/>
<ellipse cx="244.00" cy="96.60" rx="8.50" ry="1.6" fill="#d8dde8" opacity="0.55" filter="url(#blur1)"/>
<path d="M235.50,98.00 Q244.00,103.50 252.50,98.00" fill="none" stroke="#d8dde8" stroke-width="0.9" opacity="0.35"/>
<circle cx="236.50" cy="95.80" r="0.7" fill="#ffffff" opacity="0.9"/>
<circle cx="239.50" cy="97.00" r="0.7" fill="#ffffff" opacity="0.9"/>
<circle cx="242.50" cy="95.80" r="0.7" fill="#ffffff" opacity="0.9"/>
<circle cx="245.50" cy="97.00" r="0.7" fill="#ffffff" opacity="0.9"/>
<circle cx="248.50" cy="95.80" r="0.7" fill="#ffffff" opacity="0.9"/>
<circle cx="251.50" cy="97.00" r="0.7" fill="#ffffff" opacity="0.9"/>
<rect x="234.10" y="103.50" width="0.9" height="17.40" fill="#17181e"/>
<rect x="237.30" y="103.50" width="0.9" height="17.40" fill="#17181e"/>
<rect x="240.50" y="103.50" width="0.9" height="17.40" fill="#17181e"/>
<rect x="243.70" y="103.50" width="0.9" height="17.40" fill="#17181e"/>
<rect x="246.90" y="103.50" width="0.9" height="17.40" fill="#17181e"/>
<rect x="250.10" y="103.50" width="0.9" height="17.40" fill="#17181e"/>
<rect x="253.30" y="103.50" width="0.9" height="17.40" fill="#17181e"/>
</g>
<g clip-path="url(#pc2)">
<rect x="257.40" y="45.0" width="75.6" height="75.9" fill="url(#bg2)"/>
<ellipse cx="296" cy="113" rx="36" ry="8" fill="#5a5153" opacity="0.55" filter="url(#blur3)"/>
<ellipse cx="296" cy="108" rx="30" ry="3.5" fill="#4c4447" opacity="0.7" filter="url(#blur1)"/>
<g filter="url(#soft)"><path d="M263.41,66.97 L263.60,66.10 L263.98,65.35 L264.27,64.65 L264.43,63.97 L264.53,63.26 L264.59,62.47 L264.92,61.76 L265.58,61.27 L266.46,61.03 L267.40,60.94 L268.24,60.69 L268.99,60.17 L269.80,59.65 L270.70,59.27 L271.66,58.97 L272.51,58.34 L273.36,57.51 L274.41,57.05 L275.67,57.27 L276.90,57.36 L278.01,56.91 L279.04,56.28 L280.14,56.13 L281.21,56.13 L282.13,55.89 L282.89,55.45 L283.61,55.07 L284.42,54.92 L285.30,55.02 L286.11,55.00 L286.89,54.68 L287.80,53.94 L288.96,53.36 L290.24,53.63 L291.59,53.87 L293.03,53.78 L294.44,54.31 L295.82,55.01 L297.31,54.77 L298.75,54.64 L300.04,55.33 L301.36,55.86 L302.75,55.75 L304.12,55.84 L305.47,56.10 L306.93,55.71 L308.38,55.50 L309.67,56.25 L310.96,57.13 L312.47,57.22 L313.96,57.52 L315.38,58.10 L316.88,58.17 L318.28,58.43 L319.35,59.37 L320.38,59.93 L321.56,59.88 L322.67,59.92 L323.54,60.32 L324.21,60.94 L324.76,61.62 L325.27,62.28 L325.83,62.91 L326.29,63.65 L326.36,64.56 L326.19,65.48 L326.17,66.31 L326.54,67.13 L327.07,68.04 L327.23,69.07 L327.01,70.19 L326.80,71.40 L327.01,72.74 L327.14,74.23 L326.92,75.80 L327.40,77.48 L327.42,79.17 L326.51,80.79 L326.31,82.42 L326.31,83.99 L326.04,85.49 L326.25,87.01 L326.51,88.53 L326.03,89.99 L325.76,91.41 L325.96,92.89 L325.78,94.30 L325.11,95.54 L324.58,96.79 L324.03,98.03 L323.01,99.00 L322.11,99.98 L321.62,101.28 L320.93,102.54 L319.70,103.36 L318.42,104.24 L316.98,105.15 L315.15,105.59 L313.36,106.51 L311.33,107.01 L309.14,107.05 L307.10,107.67 L305.04,108.08 L303.17,108.97 L301.19,109.05 L299.21,109.13 L297.28,109.62 L295.31,109.57 L293.38,109.80 L291.47,109.54 L289.62,109.43 L287.78,109.93 L286.00,109.71 L284.21,109.45 L282.45,109.10 L280.83,108.33 L279.11,108.12 L277.49,107.72 L276.15,106.80 L274.81,106.16 L273.47,105.72 L272.35,105.00 L271.21,104.40 L269.93,104.01 L268.90,103.25 L268.27,102.10 L267.81,100.87 L267.07,99.76 L266.41,98.47 L266.19,96.89 L265.73,95.26 L265.51,93.50 L265.70,91.68 L265.04,89.97 L264.56,88.31 L264.62,86.72 L264.39,85.26 L264.37,83.83 L264.82,82.40 L264.72,81.07 L264.11,79.79 L263.98,78.51 L264.23,77.23 L264.29,75.98 L263.88,74.77 L263.77,73.55 L263.79,72.34 L263.54,71.18 L262.96,70.06 L262.90,68.95 L263.41,67.93 Z" fill="url(#gel2)"/><path d="M263.41,66.97 L263.60,66.10 L263.98,65.35 L264.27,64.65 L264.43,63.97 L264.53,63.26 L264.59,62.47 L264.92,61.76 L265.58,61.27 L266.46,61.03 L267.40,60.94 L268.24,60.69 L268.99,60.17 L269.80,59.65 L270.70,59.27 L271.66,58.97 L272.51,58.34 L273.36,57.51 L274.41,57.05 L275.67,57.27 L276.90,57.36 L278.01,56.91 L279.04,56.28 L280.14,56.13 L281.21,56.13 L282.13,55.89 L282.89,55.45 L283.61,55.07 L284.42,54.92 L285.30,55.02 L286.11,55.00 L286.89,54.68 L287.80,53.94 L288.96,53.36 L290.24,53.63 L291.59,53.87 L293.03,53.78 L294.44,54.31 L295.82,55.01 L297.31,54.77 L298.75,54.64 L300.04,55.33 L301.36,55.86 L302.75,55.75 L304.12,55.84 L305.47,56.10 L306.93,55.71 L308.38,55.50 L309.67,56.25 L310.96,57.13 L312.47,57.22 L313.96,57.52 L315.38,58.10 L316.88,58.17 L318.28,58.43 L319.35,59.37 L320.38,59.93 L321.56,59.88 L322.67,59.92 L323.54,60.32 L324.21,60.94 L324.76,61.62 L325.27,62.28 L325.83,62.91 L326.29,63.65 L326.36,64.56 L326.19,65.48 L326.17,66.31 L326.54,67.13 L327.07,68.04 L327.23,69.07 L327.01,70.19 L326.80,71.40 L327.01,72.74 L327.14,74.23 L326.92,75.80 L327.40,77.48 L327.42,79.17 L326.51,80.79 L326.31,82.42 L326.31,83.99 L326.04,85.49 L326.25,87.01 L326.51,88.53 L326.03,89.99 L325.76,91.41 L325.96,92.89 L325.78,94.30 L325.11,95.54 L324.58,96.79 L324.03,98.03 L323.01,99.00 L322.11,99.98 L321.62,101.28 L320.93,102.54 L319.70,103.36 L318.42,104.24 L316.98,105.15 L315.15,105.59 L313.36,106.51 L311.33,107.01 L309.14,107.05 L307.10,107.67 L305.04,108.08 L303.17,108.97 L301.19,109.05 L299.21,109.13 L297.28,109.62 L295.31,109.57 L293.38,109.80 L291.47,109.54 L289.62,109.43 L287.78,109.93 L286.00,109.71 L284.21,109.45 L282.45,109.10 L280.83,108.33 L279.11,108.12 L277.49,107.72 L276.15,106.80 L274.81,106.16 L273.47,105.72 L272.35,105.00 L271.21,104.40 L269.93,104.01 L268.90,103.25 L268.27,102.10 L267.81,100.87 L267.07,99.76 L266.41,98.47 L266.19,96.89 L265.73,95.26 L265.51,93.50 L265.70,91.68 L265.04,89.97 L264.56,88.31 L264.62,86.72 L264.39,85.26 L264.37,83.83 L264.82,82.40 L264.72,81.07 L264.11,79.79 L263.98,78.51 L264.23,77.23 L264.29,75.98 L263.88,74.77 L263.77,73.55 L263.79,72.34 L263.54,71.18 L262.96,70.06 L262.90,68.95 L263.41,67.93 Z" fill="url(#gelv2)"/></g>
<ellipse cx="295" cy="66" rx="29" ry="11" fill="#a89fb2" opacity="0.55" filter="url(#blur15)"/>
<path d="M263.41,66.97 L263.60,66.10 L263.98,65.35 L264.27,64.65 L264.43,63.97 L264.53,63.26 L264.59,62.47 L264.92,61.76 L265.58,61.27 L266.46,61.03 L267.40,60.94 L268.24,60.69 L268.99,60.17 L269.80,59.65 L270.70,59.27 L271.66,58.97 L272.51,58.34 L273.36,57.51 L274.41,57.05 L275.67,57.27 L276.90,57.36 L278.01,56.91 L279.04,56.28 L280.14,56.13 L281.21,56.13 L282.13,55.89 L282.89,55.45 L283.61,55.07 L284.42,54.92 L285.30,55.02 L286.11,55.00 L286.89,54.68 L287.80,53.94 L288.96,53.36 L290.24,53.63 L291.59,53.87 L293.03,53.78 L294.44,54.31 L295.82,55.01 L297.31,54.77 L298.75,54.64 L300.04,55.33 L301.36,55.86 L302.75,55.75 L304.12,55.84 L305.47,56.10 L306.93,55.71 L308.38,55.50 L309.67,56.25 L310.96,57.13 L312.47,57.22 L313.96,57.52 L315.38,58.10 L316.88,58.17 L318.28,58.43 L319.35,59.37 L320.38,59.93 L321.56,59.88 L322.67,59.92 L323.54,60.32 L324.21,60.94 L324.76,61.62 L325.27,62.28 L325.83,62.91 L326.29,63.65 L326.36,64.56 L326.19,65.48 L326.17,66.31 L326.54,67.13 L327.07,68.04 L327.23,69.07 L327.01,70.19 L326.80,71.40 L327.01,72.74 L327.14,74.23 L326.92,75.80 L327.40,77.48 L327.42,79.17 L326.51,80.79 L326.31,82.42 L326.31,83.99 L326.04,85.49 L326.25,87.01 L326.51,88.53 L326.03,89.99 L325.76,91.41 L325.96,92.89 L325.78,94.30 L325.11,95.54 L324.58,96.79 L324.03,98.03 L323.01,99.00 L322.11,99.98 L321.62,101.28 L320.93,102.54 L319.70,103.36 L318.42,104.24 L316.98,105.15 L315.15,105.59 L313.36,106.51 L311.33,107.01 L309.14,107.05 L307.10,107.67 L305.04,108.08 L303.17,108.97 L301.19,109.05 L299.21,109.13 L297.28,109.62 L295.31,109.57 L293.38,109.80 L291.47,109.54 L289.62,109.43 L287.78,109.93 L286.00,109.71 L284.21,109.45 L282.45,109.10 L280.83,108.33 L279.11,108.12 L277.49,107.72 L276.15,106.80 L274.81,106.16 L273.47,105.72 L272.35,105.00 L271.21,104.40 L269.93,104.01 L268.90,103.25 L268.27,102.10 L267.81,100.87 L267.07,99.76 L266.41,98.47 L266.19,96.89 L265.73,95.26 L265.51,93.50 L265.70,91.68 L265.04,89.97 L264.56,88.31 L264.62,86.72 L264.39,85.26 L264.37,83.83 L264.82,82.40 L264.72,81.07 L264.11,79.79 L263.98,78.51 L264.23,77.23 L264.29,75.98 L263.88,74.77 L263.77,73.55 L263.79,72.34 L263.54,71.18 L262.96,70.06 L262.90,68.95 L263.41,67.93 Z" fill="#fff" opacity="0.12" filter="url(#grain)"/>

<circle cx="324.0" cy="81.6" r="0.45" fill="#e4e4ee" opacity="0.28"/>
<circle cx="324.2" cy="81.4" r="0.42" fill="#e4e4ee" opacity="0.32"/>
<circle cx="272.9" cy="88.1" r="0.46" fill="#e4e4ee" opacity="0.27"/>
<circle cx="312.1" cy="98.7" r="0.35" fill="#e4e4ee" opacity="0.33"/>
<circle cx="282.0" cy="104.3" r="0.55" fill="#e4e4ee" opacity="0.26"/>
<circle cx="281.6" cy="63.9" r="0.6" fill="#e4e4ee" opacity="0.27"/>
<circle cx="301.8" cy="80.5" r="0.51" fill="#e4e4ee" opacity="0.35"/>
<circle cx="309.9" cy="62.0" r="0.54" fill="#e4e4ee" opacity="0.28"/>
<circle cx="297.4" cy="73.3" r="0.42" fill="#e4e4ee" opacity="0.33"/>
<circle cx="293.3" cy="74.6" r="0.54" fill="#e4e4ee" opacity="0.35"/>
<circle cx="267.9" cy="69.0" r="0.46" fill="#e4e4ee" opacity="0.43"/>
<circle cx="318.4" cy="84.2" r="0.35" fill="#e4e4ee" opacity="0.39"/>
<circle cx="291.1" cy="85.7" r="0.53" fill="#e4e4ee" opacity="0.36"/>
<circle cx="294.3" cy="103.1" r="0.45" fill="#e4e4ee" opacity="0.3"/>
<circle cx="316.3" cy="66.1" r="0.42" fill="#e4e4ee" opacity="0.41"/>
<circle cx="269.6" cy="99.2" r="0.52" fill="#e4e4ee" opacity="0.31"/>
<circle cx="282.7" cy="96.3" r="0.58" fill="#e4e4ee" opacity="0.24"/>
<circle cx="294.1" cy="84.3" r="0.47" fill="#e4e4ee" opacity="0.28"/>
<circle cx="274.8" cy="86.2" r="0.55" fill="#e4e4ee" opacity="0.22"/>
<circle cx="279.4" cy="98.4" r="0.55" fill="#e4e4ee" opacity="0.37"/>
<circle cx="267.2" cy="93.3" r="0.59" fill="#e4e4ee" opacity="0.45"/>
<circle cx="307.4" cy="58.4" r="0.56" fill="#e4e4ee" opacity="0.25"/>
<circle cx="304.1" cy="105.2" r="0.53" fill="#e4e4ee" opacity="0.23"/>
<circle cx="283.1" cy="103.5" r="0.39" fill="#e4e4ee" opacity="0.35"/>
<circle cx="290.3" cy="64.2" r="0.51" fill="#e4e4ee" opacity="0.21"/>
<circle cx="273.7" cy="109.0" r="0.5" fill="#3e383b" opacity="0.35"/>
<circle cx="271.7" cy="107.0" r="0.5" fill="#3e383b" opacity="0.35"/>
<circle cx="299.6" cy="111.2" r="0.5" fill="#3e383b" opacity="0.35"/>
<circle cx="316.4" cy="107.5" r="0.5" fill="#3e383b" opacity="0.35"/>
<circle cx="291.6" cy="108.6" r="0.5" fill="#3e383b" opacity="0.35"/>
<circle cx="301.0" cy="109.6" r="0.5" fill="#3e383b" opacity="0.35"/>
<circle cx="319.7" cy="108.9" r="0.5" fill="#3e383b" opacity="0.35"/>
<circle cx="270.8" cy="110.9" r="0.5" fill="#3e383b" opacity="0.35"/>
<circle cx="276.1" cy="110.5" r="0.5" fill="#3e383b" opacity="0.35"/>
<circle cx="295.7" cy="112.2" r="0.5" fill="#3e383b" opacity="0.35"/>
</g>
<text x="396.65" y="41.00" font-size="13.0" fill="#6b99a0" text-anchor="middle" font-weight="normal" stroke="#6b99a0" stroke-width="0.2">0.3%</text>
<g clip-path="url(#vc3)">
<rect x="346.50" y="45.0" width="24.3" height="75.9" fill="#0f1015"/>
<rect x="348.60" y="59.50" width="20.00" height="37.90" rx="2.5" fill="url(#vg3)"/>
<rect x="348.60" y="45.4" width="20.00" height="15.10" rx="1.2" fill="url(#vt3)"/>
<rect x="348.60" y="59.30" width="20.00" height="1.2" fill="#e9f0f8" opacity="0.7"/>
<path d="M349.10,94.40 L368.10,94.40 L368.10,97.40 Q368.10,101.20 358.60,101.20 Q349.10,101.20 349.10,97.40 Z" fill="#8a8e90" opacity="0.85"/>
<ellipse cx="358.60" cy="96.00" rx="8.50" ry="1.6" fill="#eef0ee" opacity="0.95" filter="url(#blur1)"/>
<path d="M350.10,97.40 Q358.60,102.90 367.10,97.40" fill="none" stroke="#eef0ee" stroke-width="0.9" opacity="0.8"/>
<circle cx="351.10" cy="95.20" r="0.7" fill="#ffffff" opacity="0.9"/>
<circle cx="354.10" cy="96.40" r="0.7" fill="#ffffff" opacity="0.9"/>
<circle cx="357.10" cy="95.20" r="0.7" fill="#ffffff" opacity="0.9"/>
<circle cx="360.10" cy="96.40" r="0.7" fill="#ffffff" opacity="0.9"/>
<circle cx="363.10" cy="95.20" r="0.7" fill="#ffffff" opacity="0.9"/>
<circle cx="366.10" cy="96.40" r="0.7" fill="#ffffff" opacity="0.9"/>
<rect x="348.70" y="102.90" width="0.9" height="18.00" fill="#3c3d40"/>
<rect x="351.90" y="102.90" width="0.9" height="18.00" fill="#3c3d40"/>
<rect x="355.10" y="102.90" width="0.9" height="18.00" fill="#3c3d40"/>
<rect x="358.30" y="102.90" width="0.9" height="18.00" fill="#3c3d40"/>
<rect x="361.50" y="102.90" width="0.9" height="18.00" fill="#3c3d40"/>
<rect x="364.70" y="102.90" width="0.9" height="18.00" fill="#3c3d40"/>
<rect x="367.90" y="102.90" width="0.9" height="18.00" fill="#3c3d40"/>
</g>
<g clip-path="url(#pc3)">
<rect x="372.00" y="45.0" width="75.6" height="75.9" fill="url(#bg3)"/>
<ellipse cx="410" cy="115" rx="36" ry="6" fill="#6a6565" opacity="0.45" filter="url(#blur3)"/>
<g filter="url(#soft)"><path d="M375.71,67.04 L375.92,66.01 L375.90,64.90 L376.10,63.83 L376.68,62.91 L377.03,61.91 L377.12,60.78 L377.49,59.76 L378.43,59.18 L379.57,58.91 L380.50,58.60 L381.11,57.93 L381.72,57.21 L382.46,56.56 L383.40,56.19 L384.34,55.67 L385.20,54.74 L386.28,54.11 L387.67,54.16 L389.05,54.06 L390.27,53.12 L391.63,52.51 L393.20,52.67 L394.71,52.54 L396.22,52.32 L397.88,52.77 L399.40,52.16 L400.87,50.86 L402.57,50.85 L404.27,50.85 L405.94,50.45 L407.65,50.84 L409.30,50.51 L410.97,50.14 L412.63,51.06 L414.30,51.38 L416.03,50.93 L417.70,51.13 L419.42,50.72 L421.07,50.71 L422.48,51.81 L423.94,52.30 L425.55,52.08 L426.95,52.72 L428.27,53.44 L429.73,53.57 L430.91,54.37 L431.99,55.18 L433.26,55.31 L434.64,55.12 L435.79,55.34 L436.61,56.08 L437.32,56.86 L438.09,57.45 L438.89,57.96 L439.45,58.70 L439.79,59.61 L440.20,60.35 L440.79,60.89 L441.51,61.36 L442.21,61.87 L442.53,62.61 L442.60,63.44 L442.49,64.33 L442.65,65.09 L442.99,65.77 L443.52,66.37 L443.90,67.02 L444.05,67.76 L444.11,68.54 L444.27,69.38 L444.62,70.31 L445.03,71.37 L444.84,72.61 L444.07,73.97 L443.91,75.42 L444.24,76.96 L444.00,78.51 L443.99,80.07 L444.24,81.59 L443.84,82.99 L443.59,84.35 L444.07,85.74 L444.42,87.10 L444.17,88.42 L443.76,89.70 L443.71,90.96 L443.33,92.14 L442.76,93.21 L442.49,94.28 L442.53,95.39 L442.62,96.50 L442.29,97.47 L441.67,98.30 L441.10,99.12 L440.65,100.05 L440.10,100.99 L439.24,101.78 L438.20,102.46 L437.27,103.42 L436.20,104.28 L434.76,104.53 L433.35,104.80 L432.24,105.58 L431.15,106.30 L430.01,106.83 L428.88,107.42 L427.84,108.21 L426.65,108.64 L425.36,108.75 L424.20,109.13 L423.17,109.82 L422.10,110.31 L420.97,110.49 L419.86,110.63 L418.84,110.97 L417.81,111.22 L416.75,111.25 L415.71,111.27 L414.72,111.49 L413.70,111.91 L412.62,112.16 L411.53,112.03 L410.46,111.70 L409.38,111.45 L408.25,111.37 L407.17,111.04 L406.11,110.64 L405.01,110.43 L403.88,110.47 L402.78,110.32 L401.76,109.81 L400.76,109.21 L399.67,108.96 L398.50,108.99 L397.36,108.82 L396.21,108.54 L394.99,108.49 L393.72,108.62 L392.47,108.41 L391.25,107.82 L389.99,107.60 L388.69,107.55 L387.48,107.11 L386.45,106.32 L385.37,105.54 L384.24,104.68 L383.39,103.43 L382.33,102.34 L380.86,101.55 L379.87,100.34 L379.29,98.91 L378.55,97.68 L378.08,96.35 L377.93,94.93 L377.44,93.61 L376.75,92.31 L376.71,90.86 L376.88,89.40 L376.48,88.04 L376.07,86.70 L375.93,85.34 L375.52,83.99 L375.01,82.64 L375.32,81.24 L375.90,79.87 L375.92,78.54 L375.55,77.25 L375.66,75.99 L375.75,74.77 L375.48,73.59 L375.12,72.45 L375.34,71.30 L375.62,70.20 L375.50,69.12 L375.01,68.01 Z" fill="url(#gel3)"/><path d="M375.71,67.04 L375.92,66.01 L375.90,64.90 L376.10,63.83 L376.68,62.91 L377.03,61.91 L377.12,60.78 L377.49,59.76 L378.43,59.18 L379.57,58.91 L380.50,58.60 L381.11,57.93 L381.72,57.21 L382.46,56.56 L383.40,56.19 L384.34,55.67 L385.20,54.74 L386.28,54.11 L387.67,54.16 L389.05,54.06 L390.27,53.12 L391.63,52.51 L393.20,52.67 L394.71,52.54 L396.22,52.32 L397.88,52.77 L399.40,52.16 L400.87,50.86 L402.57,50.85 L404.27,50.85 L405.94,50.45 L407.65,50.84 L409.30,50.51 L410.97,50.14 L412.63,51.06 L414.30,51.38 L416.03,50.93 L417.70,51.13 L419.42,50.72 L421.07,50.71 L422.48,51.81 L423.94,52.30 L425.55,52.08 L426.95,52.72 L428.27,53.44 L429.73,53.57 L430.91,54.37 L431.99,55.18 L433.26,55.31 L434.64,55.12 L435.79,55.34 L436.61,56.08 L437.32,56.86 L438.09,57.45 L438.89,57.96 L439.45,58.70 L439.79,59.61 L440.20,60.35 L440.79,60.89 L441.51,61.36 L442.21,61.87 L442.53,62.61 L442.60,63.44 L442.49,64.33 L442.65,65.09 L442.99,65.77 L443.52,66.37 L443.90,67.02 L444.05,67.76 L444.11,68.54 L444.27,69.38 L444.62,70.31 L445.03,71.37 L444.84,72.61 L444.07,73.97 L443.91,75.42 L444.24,76.96 L444.00,78.51 L443.99,80.07 L444.24,81.59 L443.84,82.99 L443.59,84.35 L444.07,85.74 L444.42,87.10 L444.17,88.42 L443.76,89.70 L443.71,90.96 L443.33,92.14 L442.76,93.21 L442.49,94.28 L442.53,95.39 L442.62,96.50 L442.29,97.47 L441.67,98.30 L441.10,99.12 L440.65,100.05 L440.10,100.99 L439.24,101.78 L438.20,102.46 L437.27,103.42 L436.20,104.28 L434.76,104.53 L433.35,104.80 L432.24,105.58 L431.15,106.30 L430.01,106.83 L428.88,107.42 L427.84,108.21 L426.65,108.64 L425.36,108.75 L424.20,109.13 L423.17,109.82 L422.10,110.31 L420.97,110.49 L419.86,110.63 L418.84,110.97 L417.81,111.22 L416.75,111.25 L415.71,111.27 L414.72,111.49 L413.70,111.91 L412.62,112.16 L411.53,112.03 L410.46,111.70 L409.38,111.45 L408.25,111.37 L407.17,111.04 L406.11,110.64 L405.01,110.43 L403.88,110.47 L402.78,110.32 L401.76,109.81 L400.76,109.21 L399.67,108.96 L398.50,108.99 L397.36,108.82 L396.21,108.54 L394.99,108.49 L393.72,108.62 L392.47,108.41 L391.25,107.82 L389.99,107.60 L388.69,107.55 L387.48,107.11 L386.45,106.32 L385.37,105.54 L384.24,104.68 L383.39,103.43 L382.33,102.34 L380.86,101.55 L379.87,100.34 L379.29,98.91 L378.55,97.68 L378.08,96.35 L377.93,94.93 L377.44,93.61 L376.75,92.31 L376.71,90.86 L376.88,89.40 L376.48,88.04 L376.07,86.70 L375.93,85.34 L375.52,83.99 L375.01,82.64 L375.32,81.24 L375.90,79.87 L375.92,78.54 L375.55,77.25 L375.66,75.99 L375.75,74.77 L375.48,73.59 L375.12,72.45 L375.34,71.30 L375.62,70.20 L375.50,69.12 L375.01,68.01 Z" fill="url(#gelv3)"/></g>
<ellipse cx="410" cy="65" rx="32" ry="13" fill="#a6a4bc" opacity="0.3" filter="url(#blur15)"/>
<path d="M375.71,67.04 L375.92,66.01 L375.90,64.90 L376.10,63.83 L376.68,62.91 L377.03,61.91 L377.12,60.78 L377.49,59.76 L378.43,59.18 L379.57,58.91 L380.50,58.60 L381.11,57.93 L381.72,57.21 L382.46,56.56 L383.40,56.19 L384.34,55.67 L385.20,54.74 L386.28,54.11 L387.67,54.16 L389.05,54.06 L390.27,53.12 L391.63,52.51 L393.20,52.67 L394.71,52.54 L396.22,52.32 L397.88,52.77 L399.40,52.16 L400.87,50.86 L402.57,50.85 L404.27,50.85 L405.94,50.45 L407.65,50.84 L409.30,50.51 L410.97,50.14 L412.63,51.06 L414.30,51.38 L416.03,50.93 L417.70,51.13 L419.42,50.72 L421.07,50.71 L422.48,51.81 L423.94,52.30 L425.55,52.08 L426.95,52.72 L428.27,53.44 L429.73,53.57 L430.91,54.37 L431.99,55.18 L433.26,55.31 L434.64,55.12 L435.79,55.34 L436.61,56.08 L437.32,56.86 L438.09,57.45 L438.89,57.96 L439.45,58.70 L439.79,59.61 L440.20,60.35 L440.79,60.89 L441.51,61.36 L442.21,61.87 L442.53,62.61 L442.60,63.44 L442.49,64.33 L442.65,65.09 L442.99,65.77 L443.52,66.37 L443.90,67.02 L444.05,67.76 L444.11,68.54 L444.27,69.38 L444.62,70.31 L445.03,71.37 L444.84,72.61 L444.07,73.97 L443.91,75.42 L444.24,76.96 L444.00,78.51 L443.99,80.07 L444.24,81.59 L443.84,82.99 L443.59,84.35 L444.07,85.74 L444.42,87.10 L444.17,88.42 L443.76,89.70 L443.71,90.96 L443.33,92.14 L442.76,93.21 L442.49,94.28 L442.53,95.39 L442.62,96.50 L442.29,97.47 L441.67,98.30 L441.10,99.12 L440.65,100.05 L440.10,100.99 L439.24,101.78 L438.20,102.46 L437.27,103.42 L436.20,104.28 L434.76,104.53 L433.35,104.80 L432.24,105.58 L431.15,106.30 L430.01,106.83 L428.88,107.42 L427.84,108.21 L426.65,108.64 L425.36,108.75 L424.20,109.13 L423.17,109.82 L422.10,110.31 L420.97,110.49 L419.86,110.63 L418.84,110.97 L417.81,111.22 L416.75,111.25 L415.71,111.27 L414.72,111.49 L413.70,111.91 L412.62,112.16 L411.53,112.03 L410.46,111.70 L409.38,111.45 L408.25,111.37 L407.17,111.04 L406.11,110.64 L405.01,110.43 L403.88,110.47 L402.78,110.32 L401.76,109.81 L400.76,109.21 L399.67,108.96 L398.50,108.99 L397.36,108.82 L396.21,108.54 L394.99,108.49 L393.72,108.62 L392.47,108.41 L391.25,107.82 L389.99,107.60 L388.69,107.55 L387.48,107.11 L386.45,106.32 L385.37,105.54 L384.24,104.68 L383.39,103.43 L382.33,102.34 L380.86,101.55 L379.87,100.34 L379.29,98.91 L378.55,97.68 L378.08,96.35 L377.93,94.93 L377.44,93.61 L376.75,92.31 L376.71,90.86 L376.88,89.40 L376.48,88.04 L376.07,86.70 L375.93,85.34 L375.52,83.99 L375.01,82.64 L375.32,81.24 L375.90,79.87 L375.92,78.54 L375.55,77.25 L375.66,75.99 L375.75,74.77 L375.48,73.59 L375.12,72.45 L375.34,71.30 L375.62,70.20 L375.50,69.12 L375.01,68.01 Z" fill="#fff" opacity="0.12" filter="url(#grain)"/>
<path d="M388,107 Q396,110 405,109.5 T422,110 T440,101" fill="none" stroke="#e6e3ee" stroke-width="1.1" opacity="0.8" filter="url(#soft)"/>
<circle cx="413.5" cy="88.2" r="0.42" fill="#e4e4ee" opacity="0.34"/>
<circle cx="394.0" cy="95.6" r="0.48" fill="#e4e4ee" opacity="0.23"/>
<circle cx="392.7" cy="73.9" r="0.53" fill="#e4e4ee" opacity="0.24"/>
<circle cx="423.7" cy="90.1" r="0.37" fill="#e4e4ee" opacity="0.37"/>
<circle cx="383.4" cy="59.8" r="0.5" fill="#e4e4ee" opacity="0.26"/>
<circle cx="434.3" cy="80.1" r="0.43" fill="#e4e4ee" opacity="0.4"/>
<circle cx="379.4" cy="94.1" r="0.36" fill="#e4e4ee" opacity="0.24"/>
<circle cx="439.2" cy="91.6" r="0.41" fill="#e4e4ee" opacity="0.23"/>
<circle cx="440.5" cy="90.7" r="0.56" fill="#e4e4ee" opacity="0.23"/>
<circle cx="418.0" cy="72.9" r="0.41" fill="#e4e4ee" opacity="0.28"/>
<circle cx="417.3" cy="72.6" r="0.45" fill="#e4e4ee" opacity="0.23"/>
<circle cx="431.4" cy="89.7" r="0.55" fill="#e4e4ee" opacity="0.31"/>
<circle cx="432.7" cy="82.3" r="0.5" fill="#e4e4ee" opacity="0.34"/>
<circle cx="425.5" cy="75.3" r="0.37" fill="#e4e4ee" opacity="0.21"/>
<circle cx="390.6" cy="54.9" r="0.57" fill="#e4e4ee" opacity="0.32"/>
<circle cx="408.0" cy="103.6" r="0.5" fill="#e4e4ee" opacity="0.31"/>
<circle cx="407.7" cy="58.3" r="0.39" fill="#e4e4ee" opacity="0.24"/>
<circle cx="401.8" cy="74.7" r="0.57" fill="#e4e4ee" opacity="0.24"/>
<circle cx="394.0" cy="68.5" r="0.39" fill="#e4e4ee" opacity="0.27"/>
<circle cx="392.7" cy="80.2" r="0.36" fill="#e4e4ee" opacity="0.43"/>
<circle cx="401.4" cy="106.3" r="0.52" fill="#e4e4ee" opacity="0.37"/>
<circle cx="408.1" cy="106.8" r="0.38" fill="#e4e4ee" opacity="0.37"/>
<circle cx="396.4" cy="91.2" r="0.53" fill="#e4e4ee" opacity="0.24"/>
<circle cx="390.5" cy="54.0" r="0.41" fill="#e4e4ee" opacity="0.22"/>
<circle cx="403.5" cy="108.4" r="0.44" fill="#e4e4ee" opacity="0.28"/>
<circle cx="407.8" cy="68.8" r="0.53" fill="#e4e4ee" opacity="0.38"/>
<circle cx="388.1" cy="66.4" r="0.52" fill="#e4e4ee" opacity="0.44"/>
<circle cx="419.4" cy="77.3" r="0.59" fill="#e4e4ee" opacity="0.2"/>
<circle cx="381.4" cy="97.3" r="0.45" fill="#e4e4ee" opacity="0.21"/>
<circle cx="413.0" cy="109.3" r="0.48" fill="#e4e4ee" opacity="0.29"/>
<circle cx="383.6" cy="56.7" r="0.57" fill="#e4e4ee" opacity="0.32"/>
<circle cx="393.3" cy="55.5" r="0.45" fill="#e4e4ee" opacity="0.22"/>
<circle cx="394.1" cy="75.9" r="0.43" fill="#e4e4ee" opacity="0.21"/>
<circle cx="389.1" cy="81.7" r="0.45" fill="#e4e4ee" opacity="0.33"/>
<circle cx="383.0" cy="70.6" r="0.38" fill="#e4e4ee" opacity="0.34"/>
<circle cx="437.2" cy="86.9" r="0.56" fill="#e4e4ee" opacity="0.25"/>
<circle cx="378.6" cy="83.5" r="0.47" fill="#e4e4ee" opacity="0.34"/>
<circle cx="401.9" cy="88.4" r="0.53" fill="#e4e4ee" opacity="0.43"/>
<circle cx="397.4" cy="78.3" r="0.56" fill="#e4e4ee" opacity="0.26"/>
<circle cx="385.0" cy="70.5" r="0.37" fill="#e4e4ee" opacity="0.39"/>
<circle cx="430.6" cy="70.5" r="0.38" fill="#e4e4ee" opacity="0.22"/>
<circle cx="393.4" cy="57.4" r="0.46" fill="#e4e4ee" opacity="0.34"/>
<circle cx="393.4" cy="56.1" r="0.53" fill="#e4e4ee" opacity="0.21"/>
<circle cx="390.5" cy="69.0" r="0.44" fill="#e4e4ee" opacity="0.22"/>
<circle cx="404.8" cy="70.6" r="0.54" fill="#e4e4ee" opacity="0.34"/>
<circle cx="435.6" cy="90.1" r="0.54" fill="#e4e4ee" opacity="0.34"/>
<circle cx="406.2" cy="99.4" r="0.51" fill="#e4e4ee" opacity="0.44"/>
<circle cx="424.7" cy="92.8" r="0.42" fill="#e4e4ee" opacity="0.4"/>
<circle cx="402.3" cy="60.1" r="0.37" fill="#e4e4ee" opacity="0.24"/>
<circle cx="394.5" cy="91.3" r="0.42" fill="#e4e4ee" opacity="0.22"/>
<circle cx="427.0" cy="84.5" r="0.36" fill="#e4e4ee" opacity="0.21"/>
<circle cx="385.9" cy="73.1" r="0.56" fill="#e4e4ee" opacity="0.44"/>
<circle cx="417.2" cy="65.8" r="0.46" fill="#e4e4ee" opacity="0.29"/>
<circle cx="398.9" cy="53.3" r="0.5" fill="#e4e4ee" opacity="0.41"/>
<circle cx="424.6" cy="58.1" r="0.48" fill="#e4e4ee" opacity="0.24"/>
<circle cx="423.5" cy="78.2" r="0.58" fill="#e4e4ee" opacity="0.4"/>
<circle cx="385.2" cy="70.8" r="0.58" fill="#e4e4ee" opacity="0.32"/>
<circle cx="405.6" cy="77.9" r="0.54" fill="#e4e4ee" opacity="0.43"/>
<circle cx="412.0" cy="108.2" r="0.5" fill="#e4e4ee" opacity="0.23"/>
<circle cx="430.3" cy="76.6" r="0.36" fill="#e4e4ee" opacity="0.44"/>
<circle cx="379.6" cy="85.7" r="0.47" fill="#e4e4ee" opacity="0.42"/>
<circle cx="402.9" cy="65.0" r="0.42" fill="#e4e4ee" opacity="0.25"/>
<circle cx="413.9" cy="73.1" r="0.54" fill="#e4e4ee" opacity="0.26"/>
<circle cx="400.3" cy="66.8" r="0.6" fill="#e4e4ee" opacity="0.41"/>
<circle cx="432.6" cy="88.0" r="0.45" fill="#e4e4ee" opacity="0.24"/>
<circle cx="431.4" cy="80.7" r="0.36" fill="#e4e4ee" opacity="0.24"/>
<circle cx="383.9" cy="93.7" r="0.58" fill="#e4e4ee" opacity="0.25"/>
<circle cx="429.1" cy="71.2" r="0.52" fill="#e4e4ee" opacity="0.42"/>
<circle cx="417.9" cy="98.5" r="0.44" fill="#e4e4ee" opacity="0.2"/>
<circle cx="410.7" cy="86.2" r="0.4" fill="#e4e4ee" opacity="0.3"/>
<circle cx="398.8" cy="109.1" r="0.5" fill="#3e383b" opacity="0.35"/>
<circle cx="398.5" cy="111.2" r="0.5" fill="#3e383b" opacity="0.35"/>
<circle cx="408.4" cy="113.1" r="0.5" fill="#3e383b" opacity="0.35"/>
<circle cx="403.8" cy="114.8" r="0.5" fill="#3e383b" opacity="0.35"/>
<circle cx="429.1" cy="114.4" r="0.5" fill="#3e383b" opacity="0.35"/>
<circle cx="421.6" cy="112.9" r="0.5" fill="#3e383b" opacity="0.35"/>
<circle cx="412.1" cy="113.7" r="0.5" fill="#3e383b" opacity="0.35"/>
<circle cx="401.6" cy="112.5" r="0.5" fill="#3e383b" opacity="0.35"/>
<circle cx="420.8" cy="112.0" r="0.5" fill="#3e383b" opacity="0.35"/>
<circle cx="396.8" cy="109.4" r="0.5" fill="#3e383b" opacity="0.35"/>
</g>
<text x="511.25" y="41.00" font-size="13.0" fill="#5b878e" text-anchor="middle" font-weight="normal" stroke="#5b878e" stroke-width="0.2">0.4%</text>
<g clip-path="url(#vc4)">
<rect x="461.10" y="45.0" width="24.3" height="75.9" fill="#0f1015"/>
<rect x="463.20" y="60.80" width="20.00" height="35.60" rx="2.5" fill="url(#vg4)"/>
<rect x="463.20" y="45.4" width="20.00" height="16.40" rx="1.2" fill="url(#vt4)"/>
<rect x="463.20" y="60.60" width="20.00" height="1.2" fill="#e9f0f8" opacity="0.7"/>
<path d="M463.70,93.40 L482.70,93.40 L482.70,96.40 Q482.70,100.20 473.20,100.20 Q463.70,100.20 463.70,96.40 Z" fill="#8a8e90" opacity="0.85"/>
<ellipse cx="473.20" cy="95.00" rx="8.50" ry="1.6" fill="#f2f3f4" opacity="0.95" filter="url(#blur1)"/>
<path d="M464.70,96.40 Q473.20,101.90 481.70,96.40" fill="none" stroke="#f2f3f4" stroke-width="0.9" opacity="0.8"/>
<circle cx="465.70" cy="94.20" r="0.7" fill="#ffffff" opacity="0.9"/>
<circle cx="468.70" cy="95.40" r="0.7" fill="#ffffff" opacity="0.9"/>
<circle cx="471.70" cy="94.20" r="0.7" fill="#ffffff" opacity="0.9"/>
<circle cx="474.70" cy="95.40" r="0.7" fill="#ffffff" opacity="0.9"/>
<circle cx="477.70" cy="94.20" r="0.7" fill="#ffffff" opacity="0.9"/>
<circle cx="480.70" cy="95.40" r="0.7" fill="#ffffff" opacity="0.9"/>
<rect x="463.30" y="101.90" width="0.9" height="19.00" fill="#45474b"/>
<rect x="466.50" y="101.90" width="0.9" height="19.00" fill="#45474b"/>
<rect x="469.70" y="101.90" width="0.9" height="19.00" fill="#45474b"/>
<rect x="472.90" y="101.90" width="0.9" height="19.00" fill="#45474b"/>
<rect x="476.10" y="101.90" width="0.9" height="19.00" fill="#45474b"/>
<rect x="479.30" y="101.90" width="0.9" height="19.00" fill="#45474b"/>
<rect x="482.50" y="101.90" width="0.9" height="19.00" fill="#45474b"/>
</g>
<g clip-path="url(#pc4)">
<rect x="486.60" y="45.0" width="75.6" height="75.9" fill="url(#bg4)"/>
<ellipse cx="524" cy="115" rx="36" ry="7" fill="#5d5a58" opacity="0.55" filter="url(#blur3)"/>
<g filter="url(#soft)"><path d="M494.23,67.08 L494.11,66.08 L493.90,65.04 L493.99,64.08 L494.53,63.29 L495.18,62.60 L495.76,61.88 L496.36,61.16 L497.02,60.41 L497.98,59.91 L499.02,59.45 L499.96,58.70 L500.93,57.84 L502.20,57.49 L503.59,57.43 L504.78,56.86 L505.88,56.03 L507.12,55.57 L508.44,55.18 L509.72,54.52 L511.14,54.32 L512.67,54.74 L514.08,54.64 L515.43,54.10 L516.80,53.91 L518.18,53.99 L519.53,53.73 L520.89,53.66 L522.25,53.97 L523.61,53.88 L524.99,53.35 L526.37,53.19 L527.71,53.77 L529.08,53.98 L530.47,54.12 L531.85,54.50 L533.24,54.69 L534.67,54.31 L536.06,54.28 L537.32,54.84 L538.56,55.20 L539.84,55.23 L541.09,55.39 L542.22,55.91 L543.41,56.19 L544.60,56.41 L545.60,57.01 L546.37,57.96 L547.08,58.82 L548.00,59.27 L549.00,59.65 L549.89,60.21 L550.54,61.01 L551.23,61.71 L552.04,62.28 L552.71,62.92 L553.09,63.68 L553.27,64.43 L553.38,65.07 L553.53,65.60 L553.71,66.13 L554.02,66.70 L554.29,67.39 L554.46,68.21 L554.32,69.20 L553.97,70.36 L553.82,71.68 L553.72,73.12 L553.32,74.64 L553.40,76.24 L553.80,77.89 L553.53,79.47 L553.14,81.00 L553.25,82.55 L553.06,84.13 L552.90,85.73 L553.10,87.36 L552.68,88.92 L552.10,90.39 L552.02,91.88 L551.81,93.30 L551.28,94.59 L550.84,95.90 L550.29,97.16 L549.34,98.16 L548.22,98.99 L547.42,100.12 L546.47,101.21 L545.17,101.96 L543.80,102.74 L542.34,103.60 L540.64,104.15 L539.06,105.17 L537.42,106.15 L535.54,106.47 L533.81,107.07 L532.07,107.41 L530.41,107.80 L528.85,108.50 L527.17,108.75 L525.49,108.85 L523.91,109.41 L522.28,109.69 L520.64,109.83 L518.99,110.03 L517.32,109.59 L515.64,109.10 L513.85,109.01 L512.13,108.53 L510.44,108.04 L508.77,107.65 L507.34,106.85 L505.93,106.34 L504.51,106.05 L503.33,105.41 L502.38,104.52 L501.45,103.70 L500.55,102.88 L499.81,101.89 L499.21,100.76 L498.30,99.75 L497.37,98.54 L497.05,96.91 L496.65,95.23 L495.99,93.54 L495.70,91.74 L495.16,90.01 L495.03,88.29 L495.30,86.63 L494.98,85.19 L494.56,83.81 L494.45,82.43 L494.32,81.09 L493.94,79.80 L493.95,78.51 L494.18,77.23 L494.09,75.99 L493.67,74.80 L493.41,73.61 L493.63,72.40 L493.74,71.23 L493.71,70.11 L493.75,69.04 L494.01,68.03 Z" fill="url(#gel4)"/><path d="M494.23,67.08 L494.11,66.08 L493.90,65.04 L493.99,64.08 L494.53,63.29 L495.18,62.60 L495.76,61.88 L496.36,61.16 L497.02,60.41 L497.98,59.91 L499.02,59.45 L499.96,58.70 L500.93,57.84 L502.20,57.49 L503.59,57.43 L504.78,56.86 L505.88,56.03 L507.12,55.57 L508.44,55.18 L509.72,54.52 L511.14,54.32 L512.67,54.74 L514.08,54.64 L515.43,54.10 L516.80,53.91 L518.18,53.99 L519.53,53.73 L520.89,53.66 L522.25,53.97 L523.61,53.88 L524.99,53.35 L526.37,53.19 L527.71,53.77 L529.08,53.98 L530.47,54.12 L531.85,54.50 L533.24,54.69 L534.67,54.31 L536.06,54.28 L537.32,54.84 L538.56,55.20 L539.84,55.23 L541.09,55.39 L542.22,55.91 L543.41,56.19 L544.60,56.41 L545.60,57.01 L546.37,57.96 L547.08,58.82 L548.00,59.27 L549.00,59.65 L549.89,60.21 L550.54,61.01 L551.23,61.71 L552.04,62.28 L552.71,62.92 L553.09,63.68 L553.27,64.43 L553.38,65.07 L553.53,65.60 L553.71,66.13 L554.02,66.70 L554.29,67.39 L554.46,68.21 L554.32,69.20 L553.97,70.36 L553.82,71.68 L553.72,73.12 L553.32,74.64 L553.40,76.24 L553.80,77.89 L553.53,79.47 L553.14,81.00 L553.25,82.55 L553.06,84.13 L552.90,85.73 L553.10,87.36 L552.68,88.92 L552.10,90.39 L552.02,91.88 L551.81,93.30 L551.28,94.59 L550.84,95.90 L550.29,97.16 L549.34,98.16 L548.22,98.99 L547.42,100.12 L546.47,101.21 L545.17,101.96 L543.80,102.74 L542.34,103.60 L540.64,104.15 L539.06,105.17 L537.42,106.15 L535.54,106.47 L533.81,107.07 L532.07,107.41 L530.41,107.80 L528.85,108.50 L527.17,108.75 L525.49,108.85 L523.91,109.41 L522.28,109.69 L520.64,109.83 L518.99,110.03 L517.32,109.59 L515.64,109.10 L513.85,109.01 L512.13,108.53 L510.44,108.04 L508.77,107.65 L507.34,106.85 L505.93,106.34 L504.51,106.05 L503.33,105.41 L502.38,104.52 L501.45,103.70 L500.55,102.88 L499.81,101.89 L499.21,100.76 L498.30,99.75 L497.37,98.54 L497.05,96.91 L496.65,95.23 L495.99,93.54 L495.70,91.74 L495.16,90.01 L495.03,88.29 L495.30,86.63 L494.98,85.19 L494.56,83.81 L494.45,82.43 L494.32,81.09 L493.94,79.80 L493.95,78.51 L494.18,77.23 L494.09,75.99 L493.67,74.80 L493.41,73.61 L493.63,72.40 L493.74,71.23 L493.71,70.11 L493.75,69.04 L494.01,68.03 Z" fill="url(#gelv4)"/></g>
<ellipse cx="524" cy="65" rx="27" ry="11" fill="#a3a1b6" opacity="0.3" filter="url(#blur15)"/>
<path d="M494.23,67.08 L494.11,66.08 L493.90,65.04 L493.99,64.08 L494.53,63.29 L495.18,62.60 L495.76,61.88 L496.36,61.16 L497.02,60.41 L497.98,59.91 L499.02,59.45 L499.96,58.70 L500.93,57.84 L502.20,57.49 L503.59,57.43 L504.78,56.86 L505.88,56.03 L507.12,55.57 L508.44,55.18 L509.72,54.52 L511.14,54.32 L512.67,54.74 L514.08,54.64 L515.43,54.10 L516.80,53.91 L518.18,53.99 L519.53,53.73 L520.89,53.66 L522.25,53.97 L523.61,53.88 L524.99,53.35 L526.37,53.19 L527.71,53.77 L529.08,53.98 L530.47,54.12 L531.85,54.50 L533.24,54.69 L534.67,54.31 L536.06,54.28 L537.32,54.84 L538.56,55.20 L539.84,55.23 L541.09,55.39 L542.22,55.91 L543.41,56.19 L544.60,56.41 L545.60,57.01 L546.37,57.96 L547.08,58.82 L548.00,59.27 L549.00,59.65 L549.89,60.21 L550.54,61.01 L551.23,61.71 L552.04,62.28 L552.71,62.92 L553.09,63.68 L553.27,64.43 L553.38,65.07 L553.53,65.60 L553.71,66.13 L554.02,66.70 L554.29,67.39 L554.46,68.21 L554.32,69.20 L553.97,70.36 L553.82,71.68 L553.72,73.12 L553.32,74.64 L553.40,76.24 L553.80,77.89 L553.53,79.47 L553.14,81.00 L553.25,82.55 L553.06,84.13 L552.90,85.73 L553.10,87.36 L552.68,88.92 L552.10,90.39 L552.02,91.88 L551.81,93.30 L551.28,94.59 L550.84,95.90 L550.29,97.16 L549.34,98.16 L548.22,98.99 L547.42,100.12 L546.47,101.21 L545.17,101.96 L543.80,102.74 L542.34,103.60 L540.64,104.15 L539.06,105.17 L537.42,106.15 L535.54,106.47 L533.81,107.07 L532.07,107.41 L530.41,107.80 L528.85,108.50 L527.17,108.75 L525.49,108.85 L523.91,109.41 L522.28,109.69 L520.64,109.83 L518.99,110.03 L517.32,109.59 L515.64,109.10 L513.85,109.01 L512.13,108.53 L510.44,108.04 L508.77,107.65 L507.34,106.85 L505.93,106.34 L504.51,106.05 L503.33,105.41 L502.38,104.52 L501.45,103.70 L500.55,102.88 L499.81,101.89 L499.21,100.76 L498.30,99.75 L497.37,98.54 L497.05,96.91 L496.65,95.23 L495.99,93.54 L495.70,91.74 L495.16,90.01 L495.03,88.29 L495.30,86.63 L494.98,85.19 L494.56,83.81 L494.45,82.43 L494.32,81.09 L493.94,79.80 L493.95,78.51 L494.18,77.23 L494.09,75.99 L493.67,74.80 L493.41,73.61 L493.63,72.40 L493.74,71.23 L493.71,70.11 L493.75,69.04 L494.01,68.03 Z" fill="#fff" opacity="0.12" filter="url(#grain)"/>

<circle cx="500.7" cy="74.3" r="0.5" fill="#e4e4ee" opacity="0.39"/>
<circle cx="536.0" cy="71.8" r="0.58" fill="#e4e4ee" opacity="0.27"/>
<circle cx="536.0" cy="59.6" r="0.54" fill="#e4e4ee" opacity="0.37"/>
<circle cx="534.4" cy="99.3" r="0.53" fill="#e4e4ee" opacity="0.35"/>
<circle cx="507.5" cy="82.7" r="0.57" fill="#e4e4ee" opacity="0.26"/>
<circle cx="550.6" cy="84.1" r="0.45" fill="#e4e4ee" opacity="0.2"/>
<circle cx="517.7" cy="65.1" r="0.51" fill="#e4e4ee" opacity="0.42"/>
<circle cx="547.0" cy="87.7" r="0.45" fill="#e4e4ee" opacity="0.23"/>
<circle cx="534.5" cy="84.6" r="0.53" fill="#e4e4ee" opacity="0.29"/>
<circle cx="545.6" cy="66.9" r="0.43" fill="#e4e4ee" opacity="0.27"/>
<circle cx="530.8" cy="102.4" r="0.39" fill="#e4e4ee" opacity="0.36"/>
<circle cx="538.9" cy="67.5" r="0.37" fill="#e4e4ee" opacity="0.34"/>
<circle cx="542.5" cy="101.4" r="0.53" fill="#e4e4ee" opacity="0.3"/>
<circle cx="519.7" cy="83.3" r="0.58" fill="#e4e4ee" opacity="0.28"/>
<circle cx="511.6" cy="87.3" r="0.59" fill="#e4e4ee" opacity="0.25"/>
<circle cx="497.5" cy="61.9" r="0.49" fill="#e4e4ee" opacity="0.35"/>
<circle cx="506.1" cy="65.8" r="0.5" fill="#e4e4ee" opacity="0.36"/>
<circle cx="534.6" cy="93.7" r="0.37" fill="#e4e4ee" opacity="0.32"/>
<circle cx="513.7" cy="99.9" r="0.51" fill="#e4e4ee" opacity="0.43"/>
<circle cx="508.7" cy="92.0" r="0.56" fill="#e4e4ee" opacity="0.32"/>
<circle cx="501.5" cy="65.9" r="0.39" fill="#e4e4ee" opacity="0.22"/>
<circle cx="504.3" cy="87.8" r="0.38" fill="#e4e4ee" opacity="0.39"/>
<circle cx="537.2" cy="98.2" r="0.55" fill="#e4e4ee" opacity="0.38"/>
<circle cx="530.9" cy="105.9" r="0.38" fill="#e4e4ee" opacity="0.23"/>
<circle cx="499.4" cy="66.6" r="0.44" fill="#e4e4ee" opacity="0.31"/>
<circle cx="534.0" cy="94.4" r="0.37" fill="#e4e4ee" opacity="0.3"/>
<circle cx="526.3" cy="75.3" r="0.38" fill="#e4e4ee" opacity="0.35"/>
<circle cx="516.8" cy="91.3" r="0.47" fill="#e4e4ee" opacity="0.44"/>
<circle cx="538.5" cy="93.3" r="0.42" fill="#e4e4ee" opacity="0.23"/>
<circle cx="522.7" cy="74.2" r="0.53" fill="#e4e4ee" opacity="0.43"/>
<circle cx="517.3" cy="71.0" r="0.47" fill="#e4e4ee" opacity="0.37"/>
<circle cx="540.1" cy="85.7" r="0.42" fill="#e4e4ee" opacity="0.28"/>
<circle cx="543.5" cy="82.8" r="0.36" fill="#e4e4ee" opacity="0.31"/>
<circle cx="509.2" cy="90.4" r="0.37" fill="#e4e4ee" opacity="0.27"/>
<circle cx="501.2" cy="80.6" r="0.6" fill="#e4e4ee" opacity="0.34"/>
<circle cx="517.5" cy="104.3" r="0.37" fill="#e4e4ee" opacity="0.29"/>
<circle cx="541.4" cy="56.2" r="0.54" fill="#e4e4ee" opacity="0.29"/>
<circle cx="496.7" cy="68.9" r="0.46" fill="#e4e4ee" opacity="0.3"/>
<circle cx="524.8" cy="58.7" r="0.4" fill="#e4e4ee" opacity="0.44"/>
<circle cx="520.7" cy="80.3" r="0.37" fill="#e4e4ee" opacity="0.27"/>
<circle cx="549.5" cy="91.5" r="0.48" fill="#e4e4ee" opacity="0.21"/>
<circle cx="517.9" cy="96.2" r="0.46" fill="#e4e4ee" opacity="0.35"/>
<circle cx="546.5" cy="89.3" r="0.51" fill="#e4e4ee" opacity="0.21"/>
<circle cx="519.0" cy="101.2" r="0.56" fill="#e4e4ee" opacity="0.43"/>
<circle cx="517.1" cy="107.7" r="0.54" fill="#e4e4ee" opacity="0.42"/>
<circle cx="504.1" cy="96.4" r="0.46" fill="#e4e4ee" opacity="0.44"/>
<circle cx="551.7" cy="67.1" r="0.46" fill="#e4e4ee" opacity="0.27"/>
<circle cx="522.2" cy="70.7" r="0.52" fill="#e4e4ee" opacity="0.23"/>
<circle cx="505.3" cy="79.6" r="0.37" fill="#e4e4ee" opacity="0.3"/>
<circle cx="506.8" cy="56.9" r="0.56" fill="#e4e4ee" opacity="0.44"/>
<circle cx="529.5" cy="63.0" r="0.41" fill="#e4e4ee" opacity="0.43"/>
<circle cx="506.2" cy="78.1" r="0.42" fill="#e4e4ee" opacity="0.39"/>
<circle cx="516.8" cy="96.1" r="0.39" fill="#e4e4ee" opacity="0.33"/>
<circle cx="550.6" cy="92.3" r="0.37" fill="#e4e4ee" opacity="0.23"/>
<circle cx="532.0" cy="75.3" r="0.44" fill="#e4e4ee" opacity="0.32"/>
<circle cx="528.5" cy="105.9" r="0.41" fill="#e4e4ee" opacity="0.34"/>
<circle cx="510.6" cy="84.1" r="0.53" fill="#e4e4ee" opacity="0.23"/>
<circle cx="522.8" cy="92.5" r="0.35" fill="#e4e4ee" opacity="0.39"/>
<circle cx="519.3" cy="82.0" r="0.5" fill="#e4e4ee" opacity="0.4"/>
<circle cx="499.0" cy="81.8" r="0.36" fill="#e4e4ee" opacity="0.3"/>
<circle cx="515.8" cy="106.8" r="0.5" fill="#3e383b" opacity="0.35"/>
<circle cx="513.3" cy="109.4" r="0.5" fill="#3e383b" opacity="0.35"/>
<circle cx="532.0" cy="112.2" r="0.5" fill="#3e383b" opacity="0.35"/>
<circle cx="517.1" cy="109.9" r="0.5" fill="#3e383b" opacity="0.35"/>
<circle cx="535.0" cy="112.3" r="0.5" fill="#3e383b" opacity="0.35"/>
<circle cx="547.4" cy="112.6" r="0.5" fill="#3e383b" opacity="0.35"/>
<circle cx="513.6" cy="107.7" r="0.5" fill="#3e383b" opacity="0.35"/>
<circle cx="546.4" cy="107.2" r="0.5" fill="#3e383b" opacity="0.35"/>
<circle cx="521.2" cy="111.1" r="0.5" fill="#3e383b" opacity="0.35"/>
<circle cx="525.4" cy="109.0" r="0.5" fill="#3e383b" opacity="0.35"/>
</g>
<text x="625.85" y="41.00" font-size="13.0" fill="#4c7a82" text-anchor="middle" font-weight="normal" stroke="#4c7a82" stroke-width="0.2">0.5%</text>
<g clip-path="url(#vc5)">
<rect x="575.70" y="45.0" width="24.3" height="75.9" fill="#0f1015"/>
<rect x="577.80" y="62.50" width="20.00" height="34.90" rx="2.5" fill="url(#vg5)"/>
<rect x="577.80" y="45.4" width="20.00" height="18.10" rx="1.2" fill="url(#vt5)"/>
<rect x="577.80" y="62.30" width="20.00" height="1.2" fill="#e9f0f8" opacity="0.7"/>
<path d="M578.30,94.40 L597.30,94.40 L597.30,97.40 Q597.30,101.20 587.80,101.20 Q578.30,101.20 578.30,97.40 Z" fill="#8a8e90" opacity="0.85"/>
<ellipse cx="587.80" cy="96.00" rx="8.50" ry="1.6" fill="#eef0f3" opacity="0.95" filter="url(#blur1)"/>
<path d="M579.30,97.40 Q587.80,102.90 596.30,97.40" fill="none" stroke="#eef0f3" stroke-width="0.9" opacity="0.8"/>
<circle cx="580.30" cy="95.20" r="0.7" fill="#ffffff" opacity="0.9"/>
<circle cx="583.30" cy="96.40" r="0.7" fill="#ffffff" opacity="0.9"/>
<circle cx="586.30" cy="95.20" r="0.7" fill="#ffffff" opacity="0.9"/>
<circle cx="589.30" cy="96.40" r="0.7" fill="#ffffff" opacity="0.9"/>
<circle cx="592.30" cy="95.20" r="0.7" fill="#ffffff" opacity="0.9"/>
<circle cx="595.30" cy="96.40" r="0.7" fill="#ffffff" opacity="0.9"/>
<rect x="577.90" y="102.90" width="0.9" height="18.00" fill="#434549"/>
<rect x="581.10" y="102.90" width="0.9" height="18.00" fill="#434549"/>
<rect x="584.30" y="102.90" width="0.9" height="18.00" fill="#434549"/>
<rect x="587.50" y="102.90" width="0.9" height="18.00" fill="#434549"/>
<rect x="590.70" y="102.90" width="0.9" height="18.00" fill="#434549"/>
<rect x="593.90" y="102.90" width="0.9" height="18.00" fill="#434549"/>
<rect x="597.10" y="102.90" width="0.9" height="18.00" fill="#434549"/>
</g>
<g clip-path="url(#pc5)">
<rect x="601.20" y="45.0" width="75.6" height="75.9" fill="url(#bg5)"/>
<ellipse cx="640" cy="113" rx="36" ry="7" fill="#66625e" opacity="0.45" filter="url(#blur3)"/>
<g filter="url(#soft)"><path d="M606.88,71.42 L606.87,70.40 L606.77,69.39 L607.05,68.43 L607.47,67.53 L607.65,66.59 L607.55,65.48 L607.70,64.34 L608.39,63.41 L609.63,62.88 L610.75,62.22 L611.65,61.25 L612.87,60.56 L614.10,59.84 L614.96,58.46 L616.14,57.47 L617.79,57.39 L619.16,56.68 L620.55,55.68 L622.24,55.36 L623.90,54.79 L625.66,54.57 L627.57,55.23 L629.19,54.53 L630.78,53.71 L632.44,53.73 L634.06,53.34 L635.71,53.24 L637.35,53.79 L639.00,53.31 L640.66,53.07 L642.25,53.93 L643.87,54.24 L645.53,54.41 L647.21,54.80 L649.05,54.15 L650.82,54.09 L652.39,55.08 L654.06,55.20 L655.61,55.53 L656.96,56.22 L658.38,56.40 L659.70,56.76 L660.68,57.80 L661.60,58.73 L662.79,59.00 L664.09,59.08 L665.09,59.64 L665.91,60.38 L666.79,61.02 L667.68,61.70 L668.24,62.65 L668.40,63.79 L668.63,64.80 L669.22,65.56 L669.88,66.22 L670.31,66.91 L670.51,67.55 L670.51,68.11 L670.52,68.55 L670.38,68.96 L670.34,69.38 L670.29,69.90 L670.37,70.56 L670.50,71.40 L670.41,72.42 L670.13,73.58 L670.43,74.89 L671.00,76.31 L670.88,77.74 L670.16,79.15 L670.03,80.59 L670.02,82.00 L669.63,83.38 L669.66,84.83 L670.06,86.31 L669.75,87.77 L669.28,89.19 L669.47,90.63 L669.64,92.07 L669.19,93.36 L668.80,94.61 L668.47,95.87 L667.79,96.97 L666.74,97.83 L666.03,98.84 L665.56,100.08 L664.72,101.13 L663.53,101.91 L662.32,102.83 L660.95,103.76 L659.27,104.33 L657.80,105.53 L656.03,106.23 L654.07,106.38 L652.27,106.96 L650.43,107.19 L648.67,107.80 L646.81,108.36 L644.81,108.20 L642.86,108.67 L640.89,108.79 L638.93,108.81 L637.03,108.76 L635.22,108.17 L633.45,108.28 L631.69,108.48 L629.99,108.21 L628.29,108.19 L626.67,107.80 L625.13,107.18 L623.48,107.07 L621.90,106.68 L620.54,105.67 L619.01,105.00 L617.52,104.22 L616.10,103.35 L614.43,102.93 L613.00,102.16 L612.07,100.88 L611.09,99.81 L610.14,98.73 L609.72,97.31 L609.24,95.93 L608.64,94.54 L608.66,93.00 L608.81,91.49 L608.30,90.15 L607.66,88.93 L607.37,87.72 L607.25,86.55 L606.93,85.44 L606.78,84.33 L607.04,83.23 L607.43,82.14 L607.32,81.07 L606.95,80.00 L606.68,78.92 L606.88,77.80 L607.04,76.69 L606.97,75.60 L606.77,74.53 L606.82,73.47 L606.95,72.44 Z" fill="url(#gel5)"/><path d="M606.88,71.42 L606.87,70.40 L606.77,69.39 L607.05,68.43 L607.47,67.53 L607.65,66.59 L607.55,65.48 L607.70,64.34 L608.39,63.41 L609.63,62.88 L610.75,62.22 L611.65,61.25 L612.87,60.56 L614.10,59.84 L614.96,58.46 L616.14,57.47 L617.79,57.39 L619.16,56.68 L620.55,55.68 L622.24,55.36 L623.90,54.79 L625.66,54.57 L627.57,55.23 L629.19,54.53 L630.78,53.71 L632.44,53.73 L634.06,53.34 L635.71,53.24 L637.35,53.79 L639.00,53.31 L640.66,53.07 L642.25,53.93 L643.87,54.24 L645.53,54.41 L647.21,54.80 L649.05,54.15 L650.82,54.09 L652.39,55.08 L654.06,55.20 L655.61,55.53 L656.96,56.22 L658.38,56.40 L659.70,56.76 L660.68,57.80 L661.60,58.73 L662.79,59.00 L664.09,59.08 L665.09,59.64 L665.91,60.38 L666.79,61.02 L667.68,61.70 L668.24,62.65 L668.40,63.79 L668.63,64.80 L669.22,65.56 L669.88,66.22 L670.31,66.91 L670.51,67.55 L670.51,68.11 L670.52,68.55 L670.38,68.96 L670.34,69.38 L670.29,69.90 L670.37,70.56 L670.50,71.40 L670.41,72.42 L670.13,73.58 L670.43,74.89 L671.00,76.31 L670.88,77.74 L670.16,79.15 L670.03,80.59 L670.02,82.00 L669.63,83.38 L669.66,84.83 L670.06,86.31 L669.75,87.77 L669.28,89.19 L669.47,90.63 L669.64,92.07 L669.19,93.36 L668.80,94.61 L668.47,95.87 L667.79,96.97 L666.74,97.83 L666.03,98.84 L665.56,100.08 L664.72,101.13 L663.53,101.91 L662.32,102.83 L660.95,103.76 L659.27,104.33 L657.80,105.53 L656.03,106.23 L654.07,106.38 L652.27,106.96 L650.43,107.19 L648.67,107.80 L646.81,108.36 L644.81,108.20 L642.86,108.67 L640.89,108.79 L638.93,108.81 L637.03,108.76 L635.22,108.17 L633.45,108.28 L631.69,108.48 L629.99,108.21 L628.29,108.19 L626.67,107.80 L625.13,107.18 L623.48,107.07 L621.90,106.68 L620.54,105.67 L619.01,105.00 L617.52,104.22 L616.10,103.35 L614.43,102.93 L613.00,102.16 L612.07,100.88 L611.09,99.81 L610.14,98.73 L609.72,97.31 L609.24,95.93 L608.64,94.54 L608.66,93.00 L608.81,91.49 L608.30,90.15 L607.66,88.93 L607.37,87.72 L607.25,86.55 L606.93,85.44 L606.78,84.33 L607.04,83.23 L607.43,82.14 L607.32,81.07 L606.95,80.00 L606.68,78.92 L606.88,77.80 L607.04,76.69 L606.97,75.60 L606.77,74.53 L606.82,73.47 L606.95,72.44 Z" fill="url(#gelv5)"/></g>
<ellipse cx="639" cy="65" rx="29" ry="11" fill="#9c9ab0" opacity="0.3" filter="url(#blur15)"/>
<path d="M606.88,71.42 L606.87,70.40 L606.77,69.39 L607.05,68.43 L607.47,67.53 L607.65,66.59 L607.55,65.48 L607.70,64.34 L608.39,63.41 L609.63,62.88 L610.75,62.22 L611.65,61.25 L612.87,60.56 L614.10,59.84 L614.96,58.46 L616.14,57.47 L617.79,57.39 L619.16,56.68 L620.55,55.68 L622.24,55.36 L623.90,54.79 L625.66,54.57 L627.57,55.23 L629.19,54.53 L630.78,53.71 L632.44,53.73 L634.06,53.34 L635.71,53.24 L637.35,53.79 L639.00,53.31 L640.66,53.07 L642.25,53.93 L643.87,54.24 L645.53,54.41 L647.21,54.80 L649.05,54.15 L650.82,54.09 L652.39,55.08 L654.06,55.20 L655.61,55.53 L656.96,56.22 L658.38,56.40 L659.70,56.76 L660.68,57.80 L661.60,58.73 L662.79,59.00 L664.09,59.08 L665.09,59.64 L665.91,60.38 L666.79,61.02 L667.68,61.70 L668.24,62.65 L668.40,63.79 L668.63,64.80 L669.22,65.56 L669.88,66.22 L670.31,66.91 L670.51,67.55 L670.51,68.11 L670.52,68.55 L670.38,68.96 L670.34,69.38 L670.29,69.90 L670.37,70.56 L670.50,71.40 L670.41,72.42 L670.13,73.58 L670.43,74.89 L671.00,76.31 L670.88,77.74 L670.16,79.15 L670.03,80.59 L670.02,82.00 L669.63,83.38 L669.66,84.83 L670.06,86.31 L669.75,87.77 L669.28,89.19 L669.47,90.63 L669.64,92.07 L669.19,93.36 L668.80,94.61 L668.47,95.87 L667.79,96.97 L666.74,97.83 L666.03,98.84 L665.56,100.08 L664.72,101.13 L663.53,101.91 L662.32,102.83 L660.95,103.76 L659.27,104.33 L657.80,105.53 L656.03,106.23 L654.07,106.38 L652.27,106.96 L650.43,107.19 L648.67,107.80 L646.81,108.36 L644.81,108.20 L642.86,108.67 L640.89,108.79 L638.93,108.81 L637.03,108.76 L635.22,108.17 L633.45,108.28 L631.69,108.48 L629.99,108.21 L628.29,108.19 L626.67,107.80 L625.13,107.18 L623.48,107.07 L621.90,106.68 L620.54,105.67 L619.01,105.00 L617.52,104.22 L616.10,103.35 L614.43,102.93 L613.00,102.16 L612.07,100.88 L611.09,99.81 L610.14,98.73 L609.72,97.31 L609.24,95.93 L608.64,94.54 L608.66,93.00 L608.81,91.49 L608.30,90.15 L607.66,88.93 L607.37,87.72 L607.25,86.55 L606.93,85.44 L606.78,84.33 L607.04,83.23 L607.43,82.14 L607.32,81.07 L606.95,80.00 L606.68,78.92 L606.88,77.80 L607.04,76.69 L606.97,75.60 L606.77,74.53 L606.82,73.47 L606.95,72.44 Z" fill="#fff" opacity="0.12" filter="url(#grain)"/>

<circle cx="664.1" cy="71.1" r="0.49" fill="#e4e4ee" opacity="0.41"/>
<circle cx="617.0" cy="73.7" r="0.47" fill="#e4e4ee" opacity="0.34"/>
<circle cx="621.1" cy="78.9" r="0.36" fill="#e4e4ee" opacity="0.22"/>
<circle cx="629.2" cy="63.2" r="0.59" fill="#e4e4ee" opacity="0.27"/>
<circle cx="625.2" cy="95.6" r="0.54" fill="#e4e4ee" opacity="0.27"/>
<circle cx="658.4" cy="87.6" r="0.45" fill="#e4e4ee" opacity="0.36"/>
<circle cx="623.4" cy="69.3" r="0.57" fill="#e4e4ee" opacity="0.31"/>
<circle cx="662.4" cy="64.9" r="0.38" fill="#e4e4ee" opacity="0.21"/>
<circle cx="653.0" cy="84.4" r="0.35" fill="#e4e4ee" opacity="0.21"/>
<circle cx="658.1" cy="81.0" r="0.57" fill="#e4e4ee" opacity="0.21"/>
<circle cx="644.0" cy="61.9" r="0.53" fill="#e4e4ee" opacity="0.35"/>
<circle cx="645.4" cy="67.1" r="0.59" fill="#e4e4ee" opacity="0.23"/>
<circle cx="612.5" cy="90.6" r="0.37" fill="#e4e4ee" opacity="0.22"/>
<circle cx="636.3" cy="88.8" r="0.57" fill="#e4e4ee" opacity="0.38"/>
<circle cx="612.9" cy="88.5" r="0.56" fill="#e4e4ee" opacity="0.23"/>
<circle cx="653.9" cy="69.0" r="0.42" fill="#e4e4ee" opacity="0.2"/>
<circle cx="654.1" cy="82.0" r="0.58" fill="#e4e4ee" opacity="0.32"/>
<circle cx="618.0" cy="66.9" r="0.42" fill="#e4e4ee" opacity="0.44"/>
<circle cx="621.0" cy="60.4" r="0.44" fill="#e4e4ee" opacity="0.22"/>
<circle cx="634.2" cy="87.4" r="0.51" fill="#e4e4ee" opacity="0.24"/>
<circle cx="617.0" cy="80.8" r="0.52" fill="#e4e4ee" opacity="0.31"/>
<circle cx="643.0" cy="102.1" r="0.39" fill="#e4e4ee" opacity="0.27"/>
<circle cx="638.3" cy="83.1" r="0.58" fill="#e4e4ee" opacity="0.34"/>
<circle cx="648.4" cy="77.2" r="0.55" fill="#e4e4ee" opacity="0.41"/>
<circle cx="626.3" cy="61.4" r="0.41" fill="#e4e4ee" opacity="0.29"/>
<circle cx="662.0" cy="69.3" r="0.51" fill="#e4e4ee" opacity="0.36"/>
<circle cx="666.0" cy="61.8" r="0.54" fill="#e4e4ee" opacity="0.28"/>
<circle cx="614.9" cy="87.9" r="0.56" fill="#e4e4ee" opacity="0.35"/>
<circle cx="631.7" cy="88.2" r="0.53" fill="#e4e4ee" opacity="0.27"/>
<circle cx="633.2" cy="72.6" r="0.37" fill="#e4e4ee" opacity="0.22"/>
<circle cx="651.6" cy="76.7" r="0.57" fill="#e4e4ee" opacity="0.22"/>
<circle cx="626.8" cy="65.0" r="0.59" fill="#e4e4ee" opacity="0.4"/>
<circle cx="662.4" cy="81.6" r="0.38" fill="#e4e4ee" opacity="0.3"/>
<circle cx="622.2" cy="57.3" r="0.49" fill="#e4e4ee" opacity="0.27"/>
<circle cx="615.2" cy="81.8" r="0.58" fill="#e4e4ee" opacity="0.44"/>
<circle cx="636.6" cy="61.1" r="0.54" fill="#e4e4ee" opacity="0.23"/>
<circle cx="640.9" cy="60.1" r="0.6" fill="#e4e4ee" opacity="0.34"/>
<circle cx="634.9" cy="69.7" r="0.49" fill="#e4e4ee" opacity="0.44"/>
<circle cx="634.3" cy="66.5" r="0.48" fill="#e4e4ee" opacity="0.43"/>
<circle cx="631.6" cy="88.0" r="0.58" fill="#e4e4ee" opacity="0.28"/>
<circle cx="657.3" cy="82.7" r="0.38" fill="#e4e4ee" opacity="0.21"/>
<circle cx="664.9" cy="79.5" r="0.46" fill="#e4e4ee" opacity="0.43"/>
<circle cx="643.1" cy="81.3" r="0.42" fill="#e4e4ee" opacity="0.39"/>
<circle cx="624.0" cy="79.8" r="0.54" fill="#e4e4ee" opacity="0.35"/>
<circle cx="616.7" cy="66.2" r="0.52" fill="#e4e4ee" opacity="0.38"/>
<circle cx="616.7" cy="64.4" r="0.37" fill="#e4e4ee" opacity="0.31"/>
<circle cx="645.8" cy="99.4" r="0.39" fill="#e4e4ee" opacity="0.37"/>
<circle cx="615.0" cy="85.3" r="0.41" fill="#e4e4ee" opacity="0.29"/>
<circle cx="611.8" cy="92.4" r="0.38" fill="#e4e4ee" opacity="0.39"/>
<circle cx="628.9" cy="85.9" r="0.51" fill="#e4e4ee" opacity="0.32"/>
<circle cx="661.0" cy="102.5" r="0.42" fill="#e4e4ee" opacity="0.28"/>
<circle cx="661.2" cy="62.6" r="0.46" fill="#e4e4ee" opacity="0.3"/>
<circle cx="647.9" cy="94.3" r="0.53" fill="#e4e4ee" opacity="0.2"/>
<circle cx="665.2" cy="71.7" r="0.56" fill="#e4e4ee" opacity="0.37"/>
<circle cx="633.9" cy="98.4" r="0.52" fill="#e4e4ee" opacity="0.28"/>
<circle cx="652.5" cy="81.5" r="0.53" fill="#e4e4ee" opacity="0.35"/>
<circle cx="656.4" cy="64.0" r="0.47" fill="#e4e4ee" opacity="0.2"/>
<circle cx="656.1" cy="95.0" r="0.56" fill="#e4e4ee" opacity="0.21"/>
<circle cx="640.8" cy="80.2" r="0.38" fill="#e4e4ee" opacity="0.25"/>
<circle cx="623.0" cy="97.9" r="0.51" fill="#e4e4ee" opacity="0.3"/>
<circle cx="647.3" cy="67.5" r="0.42" fill="#e4e4ee" opacity="0.2"/>
<circle cx="648.0" cy="85.4" r="0.54" fill="#e4e4ee" opacity="0.33"/>
<circle cx="634.7" cy="71.4" r="0.53" fill="#e4e4ee" opacity="0.29"/>
<circle cx="644.4" cy="94.3" r="0.46" fill="#e4e4ee" opacity="0.37"/>
<circle cx="612.4" cy="69.1" r="0.56" fill="#e4e4ee" opacity="0.24"/>
<circle cx="654.6" cy="61.3" r="0.46" fill="#e4e4ee" opacity="0.31"/>
<circle cx="656.8" cy="80.1" r="0.48" fill="#e4e4ee" opacity="0.21"/>
<circle cx="656.3" cy="94.8" r="0.51" fill="#e4e4ee" opacity="0.41"/>
<circle cx="645.5" cy="92.2" r="0.56" fill="#e4e4ee" opacity="0.35"/>
<circle cx="668.0" cy="66.1" r="0.37" fill="#e4e4ee" opacity="0.28"/>
<circle cx="616.3" cy="107.8" r="0.5" fill="#3e383b" opacity="0.35"/>
<circle cx="615.7" cy="106.9" r="0.5" fill="#3e383b" opacity="0.35"/>
<circle cx="610.9" cy="108.2" r="0.5" fill="#3e383b" opacity="0.35"/>
<circle cx="627.5" cy="110.0" r="0.5" fill="#3e383b" opacity="0.35"/>
<circle cx="632.4" cy="106.6" r="0.5" fill="#3e383b" opacity="0.35"/>
<circle cx="664.0" cy="111.0" r="0.5" fill="#3e383b" opacity="0.35"/>
<circle cx="649.2" cy="106.9" r="0.5" fill="#3e383b" opacity="0.35"/>
<circle cx="633.2" cy="108.3" r="0.5" fill="#3e383b" opacity="0.35"/>
<circle cx="633.5" cy="105.8" r="0.5" fill="#3e383b" opacity="0.35"/>
<circle cx="636.2" cy="110.2" r="0.5" fill="#3e383b" opacity="0.35"/>
</g>
<text x="0.9" y="147.5" font-size="12.6" font-weight="bold" fill="#111" textLength="14.9" lengthAdjust="spacingAndGlyphs">(b)</text>
<rect x="35.55" y="153.10" width="176.95" height="176.90" fill="none" stroke="#5a5a5a" stroke-width="1.2"/>
<line x1="53.24" y1="330.00" x2="53.24" y2="328.40" stroke="#5a5a5a" stroke-width="1"/>
<line x1="70.94" y1="330.00" x2="70.94" y2="327.80" stroke="#5a5a5a" stroke-width="1"/>
<line x1="88.63" y1="330.00" x2="88.63" y2="328.40" stroke="#5a5a5a" stroke-width="1"/>
<line x1="106.33" y1="330.00" x2="106.33" y2="327.80" stroke="#5a5a5a" stroke-width="1"/>
<line x1="124.02" y1="330.00" x2="124.02" y2="328.40" stroke="#5a5a5a" stroke-width="1"/>
<line x1="141.72" y1="330.00" x2="141.72" y2="327.80" stroke="#5a5a5a" stroke-width="1"/>
<line x1="159.42" y1="330.00" x2="159.42" y2="328.40" stroke="#5a5a5a" stroke-width="1"/>
<line x1="177.11" y1="330.00" x2="177.11" y2="327.80" stroke="#5a5a5a" stroke-width="1"/>
<line x1="194.80" y1="330.00" x2="194.80" y2="328.40" stroke="#5a5a5a" stroke-width="1"/>
<line x1="35.55" y1="300.52" x2="37.15" y2="300.52" stroke="#5a5a5a" stroke-width="1"/>
<line x1="35.55" y1="271.03" x2="37.75" y2="271.03" stroke="#5a5a5a" stroke-width="1"/>
<line x1="35.55" y1="241.55" x2="37.15" y2="241.55" stroke="#5a5a5a" stroke-width="1"/>
<line x1="35.55" y1="212.07" x2="37.75" y2="212.07" stroke="#5a5a5a" stroke-width="1"/>
<line x1="35.55" y1="182.58" x2="37.15" y2="182.58" stroke="#5a5a5a" stroke-width="1"/>
<text x="32.80" y="334.30" font-size="10.8" fill="#1c1c1c" text-anchor="end" font-weight="normal"  stroke="#1c1c1c" stroke-width="0.22">0</text>
<text x="32.80" y="275.33" font-size="10.8" fill="#1c1c1c" text-anchor="end" font-weight="normal"  stroke="#1c1c1c" stroke-width="0.22">10</text>
<text x="32.80" y="216.37" font-size="10.8" fill="#1c1c1c" text-anchor="end" font-weight="normal"  stroke="#1c1c1c" stroke-width="0.22">20</text>
<text x="32.80" y="157.40" font-size="10.8" fill="#1c1c1c" text-anchor="end" font-weight="normal"  stroke="#1c1c1c" stroke-width="0.22">30</text>
<text x="35.05" y="342.40" font-size="10.8" fill="#1c1c1c" text-anchor="middle" font-weight="normal"  stroke="#1c1c1c" stroke-width="0.22">0</text>
<text x="70.44" y="342.40" font-size="10.8" fill="#1c1c1c" text-anchor="middle" font-weight="normal"  stroke="#1c1c1c" stroke-width="0.22">0.04</text>
<text x="105.83" y="342.40" font-size="10.8" fill="#1c1c1c" text-anchor="middle" font-weight="normal"  stroke="#1c1c1c" stroke-width="0.22">0.08</text>
<text x="141.22" y="342.40" font-size="10.8" fill="#1c1c1c" text-anchor="middle" font-weight="normal"  stroke="#1c1c1c" stroke-width="0.22">0.12</text>
<text x="176.61" y="342.40" font-size="10.8" fill="#1c1c1c" text-anchor="middle" font-weight="normal"  stroke="#1c1c1c" stroke-width="0.22">0.16</text>
<text x="212.00" y="342.40" font-size="10.8" fill="#1c1c1c" text-anchor="middle" font-weight="normal"  stroke="#1c1c1c" stroke-width="0.22">0.20</text>
<text x="124.35" y="356.60" font-size="12.6" fill="#1c1c1c" text-anchor="middle" font-weight="normal" textLength="47.8" lengthAdjust="spacingAndGlyphs" stroke="#1c1c1c" stroke-width="0.22">Strain (-)</text>
<text transform="translate(14.9,241.1) rotate(-90)" font-size="12.6" fill="#1c1c1c" text-anchor="middle" textLength="67.4" lengthAdjust="spacingAndGlyphs">Stress (kPa)</text>
<path d="M36.00,329.60 C38.60,329.28 46.23,328.30 51.60,327.70 C56.97,327.10 60.97,326.83 68.20,326.00 C75.43,325.17 86.37,323.95 95.00,322.70 C103.63,321.45 112.43,319.77 120.00,318.50 C127.57,317.23 133.60,316.08 140.40,315.10 C147.20,314.12 154.02,313.23 160.80,312.60 C167.58,311.97 175.17,311.53 181.10,311.30 C187.03,311.07 191.28,311.25 196.40,311.20 C201.52,311.15 209.23,311.03 211.80,311.00" fill="none" stroke="#a3c4c8" stroke-width="1.05"/>
<path d="M36.00,329.60 C38.05,328.87 44.03,326.63 48.30,325.20 C52.57,323.77 56.90,322.38 61.60,321.00 C66.30,319.62 70.93,318.55 76.50,316.90 C82.07,315.25 90.42,312.53 95.00,311.10 C99.58,309.67 100.95,309.35 104.00,308.30 C107.05,307.25 110.63,305.80 113.30,304.80 C115.97,303.80 117.88,303.00 120.00,302.30 C122.12,301.60 123.92,301.10 126.00,300.60 C128.08,300.10 129.57,299.50 132.50,299.30 C135.43,299.10 139.90,299.10 143.60,299.40 C147.30,299.70 151.80,300.55 154.70,301.10 C157.60,301.65 159.12,302.33 161.00,302.70 C162.88,303.07 162.43,303.20 166.00,303.30 C169.57,303.40 177.12,303.45 182.40,303.30 C187.68,303.15 192.80,302.63 197.70,302.40 C202.60,302.17 209.45,301.98 211.80,301.90" fill="none" stroke="#8cb7bb" stroke-width="1.05"/>
<path d="M36.00,329.60 C37.50,328.35 41.83,324.50 45.00,322.10 C48.17,319.70 51.68,317.32 55.00,315.20 C58.32,313.08 61.58,311.33 64.90,309.40 C68.22,307.47 71.57,305.43 74.90,303.60 C78.23,301.77 81.55,300.43 84.90,298.40 C88.25,296.37 92.12,293.53 95.00,291.40 C97.88,289.27 99.70,287.50 102.20,285.60 C104.70,283.70 107.03,282.30 110.00,280.00 C112.97,277.70 116.48,274.50 120.00,271.80 C123.52,269.10 127.40,266.42 131.10,263.80 C134.80,261.18 138.52,258.58 142.20,256.10 C145.88,253.62 150.23,250.75 153.20,248.90 C156.17,247.05 157.78,246.12 160.00,245.00 C162.22,243.88 164.28,243.10 166.50,242.20 C168.72,241.30 170.72,240.25 173.30,239.60 C175.88,238.95 178.62,238.55 182.00,238.30 C185.38,238.05 190.37,238.20 193.60,238.10 C196.83,238.00 198.37,238.02 201.40,237.70 C204.43,237.38 210.07,236.45 211.80,236.20" fill="none" stroke="#7fa9af" stroke-width="1.05"/>
<path d="M36.00,329.60 C37.22,328.03 40.97,323.15 43.30,320.20 C45.63,317.25 47.78,314.95 50.00,311.90 C52.22,308.85 54.38,305.22 56.60,301.90 C58.82,298.58 60.90,295.65 63.30,292.00 C65.70,288.35 68.65,283.67 71.00,280.00 C73.35,276.33 75.37,273.35 77.40,270.00 C79.43,266.65 81.38,262.97 83.20,259.90 C85.02,256.83 86.75,254.10 88.30,251.60 C89.85,249.10 91.12,247.07 92.50,244.90 C93.88,242.73 95.22,240.38 96.60,238.60 C97.98,236.82 99.42,235.40 100.80,234.20 C102.18,233.00 103.65,231.97 104.90,231.40 C106.15,230.83 107.32,230.62 108.30,230.80 C109.28,230.98 109.97,231.80 110.80,232.50 C111.63,233.20 112.33,234.38 113.30,235.00 C114.27,235.62 114.95,236.02 116.60,236.20 C118.25,236.38 120.98,236.05 123.20,236.10 C125.42,236.15 127.95,236.47 129.90,236.50 C131.85,236.53 133.25,236.35 134.90,236.30 C136.55,236.25 138.12,236.13 139.80,236.20 C141.48,236.27 143.32,236.42 145.00,236.70 C146.68,236.98 148.38,237.38 149.90,237.90 C151.42,238.42 152.72,239.20 154.10,239.80 C155.48,240.40 156.40,241.08 158.20,241.50 C160.00,241.92 162.68,242.43 164.90,242.30 C167.12,242.17 169.28,241.25 171.50,240.70 C173.72,240.15 175.95,239.40 178.20,239.00 C180.45,238.60 182.92,238.37 185.00,238.30 C187.08,238.23 188.93,238.37 190.70,238.60 C192.47,238.83 194.30,239.07 195.60,239.70 C196.90,240.33 197.37,241.72 198.50,242.40 C199.63,243.08 200.18,243.52 202.40,243.80 C204.62,244.08 210.23,244.05 211.80,244.10" fill="none" stroke="#6c9aa1" stroke-width="1.05"/>
<path d="M36.00,329.60 C37.08,328.03 40.45,323.30 42.50,320.20 C44.55,317.10 46.50,314.18 48.30,311.00 C50.10,307.82 51.63,304.55 53.30,301.10 C54.97,297.65 56.58,293.98 58.30,290.30 C60.02,286.62 61.80,282.38 63.60,279.00 C65.40,275.62 67.22,273.47 69.10,270.00 C70.98,266.53 73.10,261.83 74.90,258.20 C76.70,254.57 78.22,251.80 79.90,248.20 C81.58,244.60 83.32,240.07 85.00,236.60 C86.68,233.13 88.33,230.25 90.00,227.40 C91.67,224.55 93.62,221.57 95.00,219.50 C96.38,217.43 96.92,216.75 98.30,215.00 C99.68,213.25 101.65,210.68 103.30,209.00 C104.95,207.32 106.55,206.28 108.20,204.90 C109.85,203.52 111.53,202.10 113.20,200.70 C114.87,199.30 116.53,197.57 118.20,196.50 C119.87,195.43 121.82,194.58 123.20,194.30 C124.58,194.02 125.45,194.43 126.50,194.80 C127.55,195.17 128.37,195.37 129.50,196.50 C130.63,197.63 131.97,199.37 133.30,201.60 C134.63,203.83 136.12,207.68 137.50,209.90 C138.88,212.12 140.08,213.65 141.60,214.90 C143.12,216.15 144.65,216.90 146.60,217.40 C148.55,217.90 150.80,217.85 153.30,217.90 C155.80,217.95 159.12,217.50 161.60,217.70 C164.08,217.90 165.98,218.45 168.20,219.10 C170.42,219.75 172.10,220.63 174.90,221.60 C177.70,222.57 182.68,224.30 185.00,224.90 C187.32,225.50 187.03,225.07 188.80,225.20 C190.57,225.33 193.67,225.62 195.60,225.70 C197.53,225.78 198.30,225.67 200.40,225.70 C202.50,225.73 206.30,225.80 208.20,225.90 C210.10,226.00 211.20,226.23 211.80,226.30" fill="none" stroke="#5c8b92" stroke-width="1.05"/>
<path d="M36.00,329.60 C36.93,328.03 39.83,323.15 41.60,320.20 C43.37,317.25 44.93,314.95 46.60,311.90 C48.27,308.85 49.93,305.50 51.60,301.90 C53.27,298.30 55.17,293.95 56.60,290.30 C58.03,286.65 58.95,283.38 60.20,280.00 C61.45,276.62 62.48,273.92 64.10,270.00 C65.72,266.08 68.10,260.97 69.90,256.50 C71.70,252.03 73.23,247.63 74.90,243.20 C76.57,238.77 78.30,234.47 79.90,229.90 C81.50,225.33 83.10,219.87 84.50,215.80 C85.90,211.73 86.83,208.98 88.30,205.50 C89.77,202.02 91.63,198.05 93.30,194.90 C94.97,191.75 96.63,188.95 98.30,186.60 C99.97,184.25 101.65,182.60 103.30,180.80 C104.95,179.00 106.55,177.05 108.20,175.80 C109.85,174.55 111.53,173.45 113.20,173.30 C114.87,173.15 116.53,173.80 118.20,174.90 C119.87,176.00 121.48,177.67 123.20,179.90 C124.92,182.13 127.03,185.78 128.50,188.30 C129.97,190.82 130.92,192.88 132.00,195.00 C133.08,197.12 134.08,199.28 135.00,201.00 C135.92,202.72 136.40,203.95 137.50,205.30 C138.60,206.65 139.80,208.05 141.60,209.10 C143.40,210.15 146.22,210.63 148.30,211.60 C150.38,212.57 152.17,213.52 154.10,214.90 C156.03,216.28 157.83,218.23 159.90,219.90 C161.97,221.57 164.28,223.38 166.50,224.90 C168.72,226.42 170.98,227.65 173.20,229.00 C175.42,230.35 178.17,232.15 179.80,233.00 C181.43,233.85 181.67,233.90 183.00,234.10 C184.33,234.30 185.87,234.38 187.80,234.20 C189.73,234.02 192.33,233.45 194.60,233.00 C196.87,232.55 199.13,232.00 201.40,231.50 C203.67,231.00 206.47,230.35 208.20,230.00 C209.93,229.65 211.20,229.50 211.80,229.40" fill="none" stroke="#4c7b83" stroke-width="1.05"/>
<text x="58.75" y="175.10" font-size="12.4" fill="#6b9ea6" text-anchor="middle" font-weight="normal" textLength="35.4" lengthAdjust="spacingAndGlyphs">[CMC]</text>
<text x="58.90" y="187.40" font-size="11.2" fill="#4c7a82" text-anchor="middle" font-weight="normal" textLength="29.6" lengthAdjust="spacingAndGlyphs" stroke="#4c7a82" stroke-width="0.15">0.5%</text>
<text x="61.40" y="201.00" font-size="11.4" fill="#5b878e" text-anchor="middle" font-weight="normal" textLength="29.2" lengthAdjust="spacingAndGlyphs" stroke="#5b878e" stroke-width="0.1">0.4%</text>
<text x="62.60" y="215.50" font-size="11.4" fill="#6b99a0" text-anchor="middle" font-weight="normal" textLength="28.8" lengthAdjust="spacingAndGlyphs">0.3%</text>
<polyline points="44.1,189.3 76.6,189.3 85.6,267.0" fill="none" stroke="#7a7a7a" stroke-width="1"/>
<line x1="45.2" y1="203.0" x2="78.2" y2="203.0" stroke="#7a7a7a" stroke-width="1"/>
<line x1="47.0" y1="217.3" x2="79.8" y2="217.3" stroke="#7a7a7a" stroke-width="1"/>
<text x="117.60" y="262.60" font-size="13.0" fill="#84abb1" text-anchor="middle" font-weight="normal" stroke="#84abb1" stroke-width="0.2">0.2%</text>
<text x="136.20" y="297.80" font-size="13.0" fill="#8bb4b9" text-anchor="middle" font-weight="normal" stroke="#8bb4b9" stroke-width="0.2">0.1%</text>
<text x="181.50" y="323.50" font-size="13.0" fill="#a2bdc2" text-anchor="middle" font-weight="normal" stroke="#a2bdc2" stroke-width="0.2">0.05%</text>
<text x="235.6" y="147.5" font-size="12.6" font-weight="bold" fill="#111" textLength="14.6" lengthAdjust="spacingAndGlyphs">(c)</text>
<rect x="271.00" y="153.10" width="177.40" height="177.10" fill="none" stroke="#5a5a5a" stroke-width="1.2"/>
<line x1="285.78" y1="330.20" x2="285.78" y2="328.60" stroke="#5a5a5a" stroke-width="1"/>
<line x1="300.57" y1="330.20" x2="300.57" y2="328.00" stroke="#5a5a5a" stroke-width="1"/>
<line x1="315.35" y1="330.20" x2="315.35" y2="328.60" stroke="#5a5a5a" stroke-width="1"/>
<line x1="330.13" y1="330.20" x2="330.13" y2="328.00" stroke="#5a5a5a" stroke-width="1"/>
<line x1="344.92" y1="330.20" x2="344.92" y2="328.60" stroke="#5a5a5a" stroke-width="1"/>
<line x1="359.70" y1="330.20" x2="359.70" y2="328.00" stroke="#5a5a5a" stroke-width="1"/>
<line x1="374.48" y1="330.20" x2="374.48" y2="328.60" stroke="#5a5a5a" stroke-width="1"/>
<line x1="389.27" y1="330.20" x2="389.27" y2="328.00" stroke="#5a5a5a" stroke-width="1"/>
<line x1="404.05" y1="330.20" x2="404.05" y2="328.60" stroke="#5a5a5a" stroke-width="1"/>
<line x1="418.83" y1="330.20" x2="418.83" y2="328.00" stroke="#5a5a5a" stroke-width="1"/>
<line x1="433.62" y1="330.20" x2="433.62" y2="328.60" stroke="#5a5a5a" stroke-width="1"/>
<line x1="271.00" y1="312.49" x2="272.60" y2="312.49" stroke="#5a5a5a" stroke-width="1"/>
<line x1="271.00" y1="294.78" x2="273.20" y2="294.78" stroke="#5a5a5a" stroke-width="1"/>
<line x1="271.00" y1="277.07" x2="272.60" y2="277.07" stroke="#5a5a5a" stroke-width="1"/>
<line x1="271.00" y1="259.36" x2="273.20" y2="259.36" stroke="#5a5a5a" stroke-width="1"/>
<line x1="271.00" y1="241.65" x2="272.60" y2="241.65" stroke="#5a5a5a" stroke-width="1"/>
<line x1="271.00" y1="223.94" x2="273.20" y2="223.94" stroke="#5a5a5a" stroke-width="1"/>
<line x1="271.00" y1="206.23" x2="272.60" y2="206.23" stroke="#5a5a5a" stroke-width="1"/>
<line x1="271.00" y1="188.52" x2="273.20" y2="188.52" stroke="#5a5a5a" stroke-width="1"/>
<line x1="271.00" y1="170.81" x2="272.60" y2="170.81" stroke="#5a5a5a" stroke-width="1"/>
<text x="268.00" y="334.50" font-size="10.8" fill="#1c1c1c" text-anchor="end" font-weight="normal"  stroke="#1c1c1c" stroke-width="0.22">0</text>
<text x="268.00" y="299.08" font-size="10.8" fill="#1c1c1c" text-anchor="end" font-weight="normal"  stroke="#1c1c1c" stroke-width="0.22">100</text>
<text x="268.00" y="263.66" font-size="10.8" fill="#1c1c1c" text-anchor="end" font-weight="normal"  stroke="#1c1c1c" stroke-width="0.22">200</text>
<text x="268.00" y="228.24" font-size="10.8" fill="#1c1c1c" text-anchor="end" font-weight="normal"  stroke="#1c1c1c" stroke-width="0.22">300</text>
<text x="268.00" y="192.82" font-size="10.8" fill="#1c1c1c" text-anchor="end" font-weight="normal"  stroke="#1c1c1c" stroke-width="0.22">400</text>
<text x="268.00" y="157.40" font-size="10.8" fill="#1c1c1c" text-anchor="end" font-weight="normal"  stroke="#1c1c1c" stroke-width="0.22">500</text>
<text x="270.40" y="342.40" font-size="10.8" fill="#1c1c1c" text-anchor="middle" font-weight="normal"  stroke="#1c1c1c" stroke-width="0.22">0</text>
<text x="299.97" y="342.40" font-size="10.8" fill="#1c1c1c" text-anchor="middle" font-weight="normal"  stroke="#1c1c1c" stroke-width="0.22">0.1</text>
<text x="329.53" y="342.40" font-size="10.8" fill="#1c1c1c" text-anchor="middle" font-weight="normal"  stroke="#1c1c1c" stroke-width="0.22">0.2</text>
<text x="359.10" y="342.40" font-size="10.8" fill="#1c1c1c" text-anchor="middle" font-weight="normal"  stroke="#1c1c1c" stroke-width="0.22">0.3</text>
<text x="388.67" y="342.40" font-size="10.8" fill="#1c1c1c" text-anchor="middle" font-weight="normal"  stroke="#1c1c1c" stroke-width="0.22">0.4</text>
<text x="418.23" y="342.40" font-size="10.8" fill="#1c1c1c" text-anchor="middle" font-weight="normal"  stroke="#1c1c1c" stroke-width="0.22">0.5</text>
<text x="447.80" y="342.40" font-size="10.8" fill="#1c1c1c" text-anchor="middle" font-weight="normal"  stroke="#1c1c1c" stroke-width="0.22">0.6</text>
<text x="359.30" y="356.20" font-size="12.6" fill="#1c1c1c" text-anchor="middle" font-weight="normal" textLength="58.2" lengthAdjust="spacingAndGlyphs" stroke="#1c1c1c" stroke-width="0.22">[CMC] (%)</text>
<text transform="translate(245.9,241.1) rotate(-90)" font-size="12.4" fill="#1c1c1c" text-anchor="middle" textLength="129.6" lengthAdjust="spacingAndGlyphs">Young's modulus (kPa)</text>
<polyline points="285.78,320.81 300.57,310.54 330.13,289.11 359.70,227.48 389.27,202.33 418.83,193.48" fill="none" stroke="#3d3d3d" stroke-width="0.9"/>
<circle cx="285.78" cy="320.81" r="2.55" fill="#a9cdd3" stroke="#a9cdd3" stroke-width="0.3"/>
<line x1="285.78" y1="320.11" x2="285.78" y2="321.52" stroke="#333" stroke-width="0.8"/>
<line x1="284.48" y1="320.11" x2="287.08" y2="320.11" stroke="#333" stroke-width="0.8"/>
<line x1="284.48" y1="321.52" x2="287.08" y2="321.52" stroke="#333" stroke-width="0.8"/>
<circle cx="300.57" cy="310.54" r="2.55" fill="#9ac3cb" stroke="#9ac3cb" stroke-width="0.3"/>
<line x1="300.57" y1="307.35" x2="300.57" y2="313.73" stroke="#333" stroke-width="0.8"/>
<line x1="299.27" y1="307.35" x2="301.87" y2="307.35" stroke="#333" stroke-width="0.8"/>
<line x1="299.27" y1="313.73" x2="301.87" y2="313.73" stroke="#333" stroke-width="0.8"/>
<circle cx="330.13" cy="289.11" r="2.55" fill="#86b3bb" stroke="#86b3bb" stroke-width="0.3"/>
<line x1="330.13" y1="288.05" x2="330.13" y2="290.18" stroke="#333" stroke-width="0.8"/>
<line x1="328.83" y1="288.05" x2="331.43" y2="288.05" stroke="#333" stroke-width="0.8"/>
<line x1="328.83" y1="290.18" x2="331.43" y2="290.18" stroke="#333" stroke-width="0.8"/>
<circle cx="359.70" cy="227.48" r="2.55" fill="#6c9ea7" stroke="#6c9ea7" stroke-width="0.3"/>
<line x1="359.70" y1="218.63" x2="359.70" y2="236.34" stroke="#333" stroke-width="0.8"/>
<line x1="358.40" y1="218.63" x2="361.00" y2="218.63" stroke="#333" stroke-width="0.8"/>
<line x1="358.40" y1="236.34" x2="361.00" y2="236.34" stroke="#333" stroke-width="0.8"/>
<circle cx="389.27" cy="202.33" r="2.55" fill="#5d8f98" stroke="#5d8f98" stroke-width="0.3"/>
<line x1="389.27" y1="190.29" x2="389.27" y2="214.38" stroke="#333" stroke-width="0.8"/>
<line x1="387.97" y1="190.29" x2="390.57" y2="190.29" stroke="#333" stroke-width="0.8"/>
<line x1="387.97" y1="214.38" x2="390.57" y2="214.38" stroke="#333" stroke-width="0.8"/>
<circle cx="418.83" cy="193.48" r="2.55" fill="#527f88" stroke="#527f88" stroke-width="0.3"/>
<line x1="418.83" y1="187.10" x2="418.83" y2="199.85" stroke="#333" stroke-width="0.8"/>
<line x1="417.53" y1="187.10" x2="420.13" y2="187.10" stroke="#333" stroke-width="0.8"/>
<line x1="417.53" y1="199.85" x2="420.13" y2="199.85" stroke="#333" stroke-width="0.8"/>
<text x="464.3" y="147.5" font-size="12.6" font-weight="bold" fill="#111" textLength="15.0" lengthAdjust="spacingAndGlyphs">(d)</text>
<rect x="499.55" y="153.20" width="176.95" height="177.10" fill="none" stroke="#5a5a5a" stroke-width="1.2"/>
<line x1="513.16" y1="330.30" x2="513.16" y2="328.10" stroke="#5a5a5a" stroke-width="1"/>
<line x1="526.77" y1="330.30" x2="526.77" y2="328.70" stroke="#5a5a5a" stroke-width="1"/>
<line x1="540.38" y1="330.30" x2="540.38" y2="328.10" stroke="#5a5a5a" stroke-width="1"/>
<line x1="554.00" y1="330.30" x2="554.00" y2="328.70" stroke="#5a5a5a" stroke-width="1"/>
<line x1="567.61" y1="330.30" x2="567.61" y2="328.10" stroke="#5a5a5a" stroke-width="1"/>
<line x1="581.22" y1="330.30" x2="581.22" y2="328.70" stroke="#5a5a5a" stroke-width="1"/>
<line x1="594.83" y1="330.30" x2="594.83" y2="328.10" stroke="#5a5a5a" stroke-width="1"/>
<line x1="608.44" y1="330.30" x2="608.44" y2="328.70" stroke="#5a5a5a" stroke-width="1"/>
<line x1="622.05" y1="330.30" x2="622.05" y2="328.10" stroke="#5a5a5a" stroke-width="1"/>
<line x1="635.67" y1="330.30" x2="635.67" y2="328.70" stroke="#5a5a5a" stroke-width="1"/>
<line x1="649.28" y1="330.30" x2="649.28" y2="328.10" stroke="#5a5a5a" stroke-width="1"/>
<line x1="662.89" y1="330.30" x2="662.89" y2="328.70" stroke="#5a5a5a" stroke-width="1"/>
<line x1="499.55" y1="312.59" x2="501.15" y2="312.59" stroke="#5a5a5a" stroke-width="1"/>
<line x1="499.55" y1="294.88" x2="501.75" y2="294.88" stroke="#5a5a5a" stroke-width="1"/>
<line x1="499.55" y1="277.17" x2="501.15" y2="277.17" stroke="#5a5a5a" stroke-width="1"/>
<line x1="499.55" y1="259.46" x2="501.75" y2="259.46" stroke="#5a5a5a" stroke-width="1"/>
<line x1="499.55" y1="241.75" x2="501.15" y2="241.75" stroke="#5a5a5a" stroke-width="1"/>
<line x1="499.55" y1="224.04" x2="501.75" y2="224.04" stroke="#5a5a5a" stroke-width="1"/>
<line x1="499.55" y1="206.33" x2="501.15" y2="206.33" stroke="#5a5a5a" stroke-width="1"/>
<line x1="499.55" y1="188.62" x2="501.75" y2="188.62" stroke="#5a5a5a" stroke-width="1"/>
<line x1="499.55" y1="170.91" x2="501.15" y2="170.91" stroke="#5a5a5a" stroke-width="1"/>
<text x="497.10" y="334.60" font-size="10.8" fill="#1c1c1c" text-anchor="end" font-weight="normal"  stroke="#1c1c1c" stroke-width="0.22">0</text>
<text x="497.10" y="299.18" font-size="10.8" fill="#1c1c1c" text-anchor="end" font-weight="normal"  stroke="#1c1c1c" stroke-width="0.22">0.4</text>
<text x="497.10" y="263.76" font-size="10.8" fill="#1c1c1c" text-anchor="end" font-weight="normal"  stroke="#1c1c1c" stroke-width="0.22">0.8</text>
<text x="497.10" y="228.34" font-size="10.8" fill="#1c1c1c" text-anchor="end" font-weight="normal"  stroke="#1c1c1c" stroke-width="0.22">1.2</text>
<text x="497.10" y="192.92" font-size="10.8" fill="#1c1c1c" text-anchor="end" font-weight="normal"  stroke="#1c1c1c" stroke-width="0.22">1.6</text>
<text x="497.10" y="157.50" font-size="10.8" fill="#1c1c1c" text-anchor="end" font-weight="normal"  stroke="#1c1c1c" stroke-width="0.22">2.0</text>
<text x="512.66" y="342.40" font-size="10.8" fill="#1c1c1c" text-anchor="middle" font-weight="normal"  stroke="#1c1c1c" stroke-width="0.22">0</text>
<text x="539.88" y="342.40" font-size="10.8" fill="#1c1c1c" text-anchor="middle" font-weight="normal"  stroke="#1c1c1c" stroke-width="0.22">0.1</text>
<text x="567.11" y="342.40" font-size="10.8" fill="#1c1c1c" text-anchor="middle" font-weight="normal"  stroke="#1c1c1c" stroke-width="0.22">0.2</text>
<text x="594.33" y="342.40" font-size="10.8" fill="#1c1c1c" text-anchor="middle" font-weight="normal"  stroke="#1c1c1c" stroke-width="0.22">0.3</text>
<text x="621.55" y="342.40" font-size="10.8" fill="#1c1c1c" text-anchor="middle" font-weight="normal"  stroke="#1c1c1c" stroke-width="0.22">0.4</text>
<text x="648.78" y="342.40" font-size="10.8" fill="#1c1c1c" text-anchor="middle" font-weight="normal"  stroke="#1c1c1c" stroke-width="0.22">0.5</text>
<text x="676.00" y="342.40" font-size="10.8" fill="#1c1c1c" text-anchor="middle" font-weight="normal"  stroke="#1c1c1c" stroke-width="0.22">0.6</text>
<text x="588.20" y="356.20" font-size="12.6" fill="#1c1c1c" text-anchor="middle" font-weight="normal" textLength="58.6" lengthAdjust="spacingAndGlyphs" stroke="#1c1c1c" stroke-width="0.22">[CMC] (%)</text>
<text transform="translate(479.3,241.3) rotate(-90)" font-size="12.6" fill="#1c1c1c" text-anchor="middle" textLength="98.0" lengthAdjust="spacingAndGlyphs">Solid content (%)</text>
<polyline points="513.16,224.04 526.77,219.61 540.38,217.22 567.61,217.75 594.83,213.95 622.05,224.39 649.28,243.52" fill="none" stroke="#3d3d3d" stroke-width="0.9"/>
<polyline points="526.77,219.61 540.38,210.76 567.61,202.79 594.83,177.99 622.05,192.16 649.28,211.64" fill="none" stroke="#3d3d3d" stroke-width="0.9"/>
<circle cx="513.16" cy="224.04" r="2.7" fill="#fff" stroke="#707070" stroke-width="0.8"/>
<line x1="513.16" y1="214.30" x2="513.16" y2="233.78" stroke="#6e6e6e" stroke-width="0.8"/>
<line x1="511.86" y1="214.30" x2="514.46" y2="214.30" stroke="#6e6e6e" stroke-width="0.8"/>
<line x1="511.86" y1="233.78" x2="514.46" y2="233.78" stroke="#6e6e6e" stroke-width="0.8"/>
<circle cx="526.77" cy="219.61" r="2.7" fill="#fff" stroke="#a8d0d4" stroke-width="0.8"/>
<line x1="526.77" y1="216.51" x2="526.77" y2="222.71" stroke="#6e6e6e" stroke-width="0.8"/>
<line x1="525.47" y1="216.51" x2="528.07" y2="216.51" stroke="#6e6e6e" stroke-width="0.8"/>
<line x1="525.47" y1="222.71" x2="528.07" y2="222.71" stroke="#6e6e6e" stroke-width="0.8"/>
<circle cx="540.38" cy="217.22" r="2.7" fill="#fff" stroke="#80b3ba" stroke-width="0.8"/>
<line x1="540.38" y1="213.68" x2="540.38" y2="220.76" stroke="#6e6e6e" stroke-width="0.8"/>
<line x1="539.08" y1="213.68" x2="541.68" y2="213.68" stroke="#6e6e6e" stroke-width="0.8"/>
<line x1="539.08" y1="220.76" x2="541.68" y2="220.76" stroke="#6e6e6e" stroke-width="0.8"/>
<circle cx="567.61" cy="217.75" r="2.7" fill="#fff" stroke="#72a6ae" stroke-width="0.8"/>
<line x1="567.61" y1="215.10" x2="567.61" y2="220.41" stroke="#6e6e6e" stroke-width="0.8"/>
<line x1="566.31" y1="215.10" x2="568.91" y2="215.10" stroke="#6e6e6e" stroke-width="0.8"/>
<line x1="566.31" y1="220.41" x2="568.91" y2="220.41" stroke="#6e6e6e" stroke-width="0.8"/>
<circle cx="594.83" cy="213.95" r="2.7" fill="#fff" stroke="#629aa2" stroke-width="0.8"/>
<line x1="594.83" y1="188.71" x2="594.83" y2="239.18" stroke="#6e6e6e" stroke-width="0.8"/>
<line x1="593.53" y1="188.71" x2="596.13" y2="188.71" stroke="#6e6e6e" stroke-width="0.8"/>
<line x1="593.53" y1="239.18" x2="596.13" y2="239.18" stroke="#6e6e6e" stroke-width="0.8"/>
<circle cx="622.05" cy="224.39" r="2.7" fill="#fff" stroke="#568b93" stroke-width="0.8"/>
<line x1="622.05" y1="209.34" x2="622.05" y2="239.45" stroke="#6e6e6e" stroke-width="0.8"/>
<line x1="620.75" y1="209.34" x2="623.35" y2="209.34" stroke="#6e6e6e" stroke-width="0.8"/>
<line x1="620.75" y1="239.45" x2="623.35" y2="239.45" stroke="#6e6e6e" stroke-width="0.8"/>
<circle cx="649.28" cy="243.52" r="2.7" fill="#fff" stroke="#4d7f87" stroke-width="0.8"/>
<line x1="649.28" y1="237.32" x2="649.28" y2="249.72" stroke="#6e6e6e" stroke-width="0.8"/>
<line x1="647.98" y1="237.32" x2="650.58" y2="237.32" stroke="#6e6e6e" stroke-width="0.8"/>
<line x1="647.98" y1="249.72" x2="650.58" y2="249.72" stroke="#6e6e6e" stroke-width="0.8"/>
<circle cx="526.77" cy="219.61" r="2.6" fill="#c3dee2" stroke="#c3dee2" stroke-width="0.4"/>
<line x1="526.77" y1="215.19" x2="526.77" y2="224.04" stroke="#4a4a4a" stroke-width="0.8"/>
<line x1="525.47" y1="215.19" x2="528.07" y2="215.19" stroke="#4a4a4a" stroke-width="0.8"/>
<line x1="525.47" y1="224.04" x2="528.07" y2="224.04" stroke="#4a4a4a" stroke-width="0.8"/>
<circle cx="540.38" cy="210.76" r="2.6" fill="#8fbfc6" stroke="#8fbfc6" stroke-width="0.4"/>
<line x1="540.38" y1="205.89" x2="540.38" y2="215.63" stroke="#4a4a4a" stroke-width="0.8"/>
<line x1="539.08" y1="205.89" x2="541.68" y2="205.89" stroke="#4a4a4a" stroke-width="0.8"/>
<line x1="539.08" y1="215.63" x2="541.68" y2="215.63" stroke="#4a4a4a" stroke-width="0.8"/>
<circle cx="567.61" cy="202.79" r="2.6" fill="#7db0b8" stroke="#7db0b8" stroke-width="0.4"/>
<line x1="567.61" y1="196.59" x2="567.61" y2="208.99" stroke="#4a4a4a" stroke-width="0.8"/>
<line x1="566.31" y1="196.59" x2="568.91" y2="196.59" stroke="#4a4a4a" stroke-width="0.8"/>
<line x1="566.31" y1="208.99" x2="568.91" y2="208.99" stroke="#4a4a4a" stroke-width="0.8"/>
<circle cx="594.83" cy="177.99" r="2.6" fill="#6a9ea6" stroke="#6a9ea6" stroke-width="0.4"/>
<line x1="594.83" y1="173.12" x2="594.83" y2="182.86" stroke="#4a4a4a" stroke-width="0.8"/>
<line x1="593.53" y1="173.12" x2="596.13" y2="173.12" stroke="#4a4a4a" stroke-width="0.8"/>
<line x1="593.53" y1="182.86" x2="596.13" y2="182.86" stroke="#4a4a4a" stroke-width="0.8"/>
<circle cx="622.05" cy="192.16" r="2.6" fill="#5b8f97" stroke="#5b8f97" stroke-width="0.4"/>
<line x1="622.05" y1="186.32" x2="622.05" y2="198.01" stroke="#4a4a4a" stroke-width="0.8"/>
<line x1="620.75" y1="186.32" x2="623.35" y2="186.32" stroke="#4a4a4a" stroke-width="0.8"/>
<line x1="620.75" y1="198.01" x2="623.35" y2="198.01" stroke="#4a4a4a" stroke-width="0.8"/>
<circle cx="649.28" cy="211.64" r="2.6" fill="#4e7f87" stroke="#4e7f87" stroke-width="0.4"/>
<line x1="649.28" y1="202.79" x2="649.28" y2="220.50" stroke="#4a4a4a" stroke-width="0.8"/>
<line x1="647.98" y1="202.79" x2="650.58" y2="202.79" stroke="#4a4a4a" stroke-width="0.8"/>
<line x1="647.98" y1="220.50" x2="650.58" y2="220.50" stroke="#4a4a4a" stroke-width="0.8"/>
<circle cx="529.5" cy="164.4" r="2.5" fill="#6a9ea6"/>
<text x="536.00" y="168.80" font-size="12.7" fill="#5f98a0" text-anchor="start" font-weight="normal" textLength="126.8" lengthAdjust="spacingAndGlyphs">LMW cellulose + CMC</text>
<circle cx="573.2" cy="259.2" r="2.6" fill="#fff" stroke="#6a9ea6" stroke-width="0.9"/>
<text x="580.00" y="263.50" font-size="12.6" fill="#5f98a0" text-anchor="start" font-weight="normal" textLength="82.4" lengthAdjust="spacingAndGlyphs">LMW cellulose</text>
</svg>
</body></html>
